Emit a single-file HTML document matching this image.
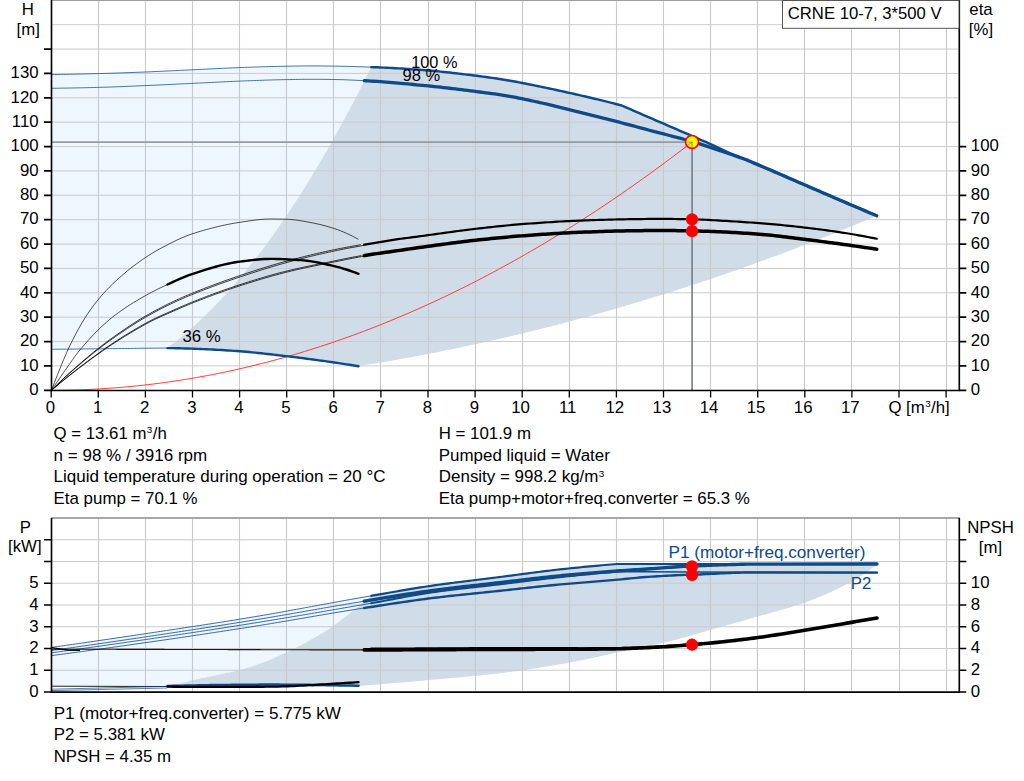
<!DOCTYPE html>
<html lang="en"><head><meta charset="utf-8"><title>CRNE 10-7 pump curve</title>
<style>html,body{margin:0;padding:0;background:#fff}body{width:1024px;height:781px;overflow:hidden;font-family:"Liberation Sans",sans-serif}svg{display:block}</style></head>
<body>
<svg width="1024" height="781" viewBox="0 0 1024 781">
<rect width="1024" height="781" fill="#fff"/>
<path d="M51.50 74.60 L54.52 74.55 L57.53 74.50 L60.55 74.45 L63.57 74.39 L66.59 74.33 L69.60 74.27 L72.62 74.21 L75.64 74.14 L78.65 74.08 L81.67 74.01 L84.69 73.94 L87.71 73.86 L90.72 73.79 L93.74 73.71 L96.76 73.63 L99.78 73.55 L102.79 73.47 L105.81 73.38 L108.83 73.29 L111.84 73.20 L114.86 73.10 L117.88 73.00 L120.90 72.90 L123.91 72.79 L126.93 72.68 L129.95 72.58 L132.96 72.46 L135.98 72.35 L139.00 72.23 L142.02 72.12 L145.03 72.00 L148.05 71.88 L151.07 71.75 L154.08 71.62 L157.10 71.48 L160.12 71.34 L163.14 71.20 L166.15 71.05 L169.17 70.90 L172.19 70.76 L175.21 70.61 L178.22 70.46 L181.24 70.31 L184.26 70.17 L187.27 70.02 L190.29 69.88 L193.31 69.74 L196.33 69.60 L199.34 69.46 L202.36 69.31 L205.38 69.16 L208.39 69.02 L211.41 68.87 L214.43 68.72 L217.45 68.58 L220.46 68.43 L223.48 68.29 L226.50 68.15 L229.51 68.01 L232.53 67.88 L235.55 67.75 L238.57 67.62 L241.58 67.50 L244.60 67.39 L247.62 67.28 L250.63 67.18 L253.65 67.08 L256.67 66.98 L259.69 66.89 L262.70 66.79 L265.72 66.70 L268.74 66.62 L271.76 66.53 L274.77 66.45 L277.79 66.38 L280.81 66.32 L283.82 66.26 L286.84 66.20 L289.86 66.15 L292.88 66.10 L295.89 66.05 L298.91 66.01 L301.93 65.97 L304.94 65.94 L307.96 65.91 L310.98 65.90 L314.00 65.90 L317.01 65.91 L320.03 65.94 L323.05 65.96 L326.06 66.00 L329.08 66.04 L332.10 66.08 L335.12 66.12 L338.13 66.16 L341.15 66.22 L344.17 66.28 L347.19 66.35 L350.20 66.43 L353.22 66.51 L356.24 66.60 L359.25 66.69 L362.27 66.79 L365.29 66.89 L368.31 67.00 L371.25 67.10 L371.25 67.10 L367.80 74.04 L364.34 80.90 L360.89 87.69 L357.44 94.40 L353.98 101.03 L350.53 107.59 L347.08 114.08 L343.62 120.49 L340.17 126.82 L336.72 133.08 L333.26 139.27 L329.81 145.38 L326.36 151.41 L322.90 157.37 L319.45 163.25 L316.00 169.06 L312.54 174.80 L309.09 180.45 L305.64 186.04 L302.18 191.54 L298.73 196.98 L295.28 202.33 L291.82 207.61 L288.37 212.82 L284.92 217.95 L281.46 223.01 L278.01 227.99 L274.56 232.89 L271.10 237.72 L267.65 242.48 L264.19 247.16 L260.74 251.76 L257.29 256.29 L253.83 260.74 L250.38 265.12 L246.93 269.42 L243.47 273.65 L240.02 277.80 L236.57 281.88 L233.11 285.88 L229.66 289.81 L226.21 293.66 L222.75 297.44 L219.30 301.14 L215.85 304.76 L212.39 308.32 L208.94 311.79 L205.49 315.19 L202.03 318.52 L198.58 321.76 L195.13 324.94 L191.67 328.04 L188.22 331.06 L184.77 334.01 L181.31 336.88 L177.86 339.68 L174.41 342.40 L170.95 345.05 L167.50 347.62 L167.50 348.10 L167.00 348.10 L163.97 348.10 L160.93 348.11 L157.89 348.13 L154.85 348.15 L151.81 348.18 L148.77 348.21 L145.73 348.24 L142.69 348.28 L139.65 348.31 L136.61 348.35 L133.57 348.40 L130.53 348.44 L127.49 348.48 L124.45 348.52 L121.41 348.56 L118.37 348.60 L115.33 348.64 L112.29 348.68 L109.25 348.71 L106.21 348.74 L103.17 348.77 L100.13 348.80 L97.09 348.83 L94.05 348.86 L91.01 348.90 L87.98 348.93 L84.94 348.96 L81.90 348.99 L78.86 349.02 L75.82 349.05 L72.78 349.08 L69.74 349.11 L66.70 349.15 L63.66 349.18 L60.62 349.21 L57.58 349.24 L54.54 349.27 L51.50 349.30 Z" fill="#eef6fe"/>
<path d="M167.50 347.62 L170.95 345.05 L174.41 342.40 L177.86 339.68 L181.31 336.88 L184.77 334.01 L188.22 331.06 L191.67 328.04 L195.13 324.94 L198.58 321.76 L202.03 318.52 L205.49 315.19 L208.94 311.79 L212.39 308.32 L215.85 304.76 L219.30 301.14 L222.75 297.44 L226.21 293.66 L229.66 289.81 L233.11 285.88 L236.57 281.88 L240.02 277.80 L243.47 273.65 L246.93 269.42 L250.38 265.12 L253.83 260.74 L257.29 256.29 L260.74 251.76 L264.19 247.16 L267.65 242.48 L271.10 237.72 L274.56 232.89 L278.01 227.99 L281.46 223.01 L284.92 217.95 L288.37 212.82 L291.82 207.61 L295.28 202.33 L298.73 196.98 L302.18 191.54 L305.64 186.04 L309.09 180.45 L312.54 174.80 L316.00 169.06 L319.45 163.25 L322.90 157.37 L326.36 151.41 L329.81 145.38 L333.26 139.27 L336.72 133.08 L340.17 126.82 L343.62 120.49 L347.08 114.08 L350.53 107.59 L353.98 101.03 L357.44 94.40 L360.89 87.69 L364.34 80.90 L367.80 74.04 L371.25 67.10 L371.25 67.10 L371.32 67.10 L374.34 67.22 L377.36 67.34 L380.37 67.47 L383.39 67.60 L386.41 67.75 L389.43 67.90 L392.44 68.06 L395.46 68.23 L398.48 68.40 L401.49 68.59 L404.51 68.77 L407.53 68.97 L410.55 69.17 L413.56 69.37 L416.58 69.58 L419.60 69.80 L422.62 70.02 L425.63 70.25 L428.65 70.49 L431.67 70.74 L434.68 71.02 L437.70 71.30 L440.72 71.60 L443.74 71.91 L446.75 72.24 L449.77 72.57 L452.79 72.91 L455.80 73.26 L458.82 73.62 L461.84 73.98 L464.86 74.35 L467.87 74.72 L470.89 75.09 L473.91 75.46 L476.92 75.84 L479.94 76.22 L482.96 76.62 L485.98 77.02 L488.99 77.44 L492.01 77.86 L495.03 78.30 L498.04 78.75 L501.06 79.21 L504.08 79.69 L507.10 80.18 L510.11 80.70 L513.13 81.24 L516.15 81.80 L519.17 82.38 L522.18 82.97 L525.20 83.57 L528.22 84.18 L531.23 84.80 L534.25 85.42 L537.27 86.04 L540.29 86.66 L543.30 87.28 L546.32 87.90 L549.34 88.53 L552.35 89.16 L555.37 89.81 L558.39 90.45 L561.41 91.11 L564.42 91.77 L567.44 92.43 L570.46 93.10 L573.47 93.78 L576.49 94.46 L579.51 95.15 L582.53 95.85 L585.54 96.55 L588.56 97.26 L591.58 97.97 L594.60 98.69 L597.61 99.42 L600.63 100.15 L603.65 100.89 L606.66 101.64 L609.68 102.40 L612.70 103.16 L615.72 103.94 L618.73 104.72 L621.75 105.50 L624.79 106.83 L627.82 108.15 L630.86 109.48 L633.89 110.80 L636.93 112.12 L639.96 113.44 L643.00 114.76 L646.04 116.08 L649.07 117.40 L652.11 118.71 L655.14 120.03 L658.18 121.34 L661.21 122.65 L664.25 123.96 L667.29 125.27 L670.32 126.58 L673.36 127.89 L676.39 129.20 L679.43 130.52 L682.46 131.83 L685.50 133.15 L688.54 134.47 L691.57 135.79 L694.61 137.12 L697.64 138.45 L700.68 139.77 L703.71 141.10 L706.75 142.45 L709.79 143.80 L712.82 145.17 L715.86 146.59 L718.89 148.03 L721.93 149.48 L724.96 150.91 L728.00 152.31 L731.04 153.65 L734.07 154.95 L737.11 156.22 L740.14 157.46 L743.18 158.68 L746.21 159.90 L749.25 161.13 L752.29 162.36 L755.32 163.62 L758.36 164.89 L761.39 166.18 L764.43 167.47 L767.46 168.76 L770.50 170.06 L773.54 171.37 L776.57 172.68 L779.61 173.99 L782.64 175.31 L785.68 176.63 L788.71 177.94 L791.75 179.26 L794.79 180.58 L797.82 181.90 L800.86 183.21 L803.89 184.52 L806.93 185.83 L809.96 187.14 L813.00 188.46 L816.04 189.77 L819.07 191.09 L822.11 192.40 L825.14 193.72 L828.18 195.03 L831.21 196.34 L834.25 197.65 L837.29 198.96 L840.32 200.27 L843.36 201.57 L846.39 202.87 L849.43 204.16 L852.46 205.46 L855.50 206.75 L858.54 208.04 L861.57 209.33 L864.61 210.62 L867.64 211.90 L870.68 213.19 L873.71 214.47 L876.75 215.75 L876.75 215.75 L870.19 218.51 L863.63 221.25 L857.07 223.97 L850.51 226.67 L843.95 229.34 L837.39 232.00 L830.83 234.63 L824.27 237.24 L817.71 239.82 L811.15 242.39 L804.59 244.93 L798.03 247.45 L791.47 249.95 L784.91 252.43 L778.35 254.88 L771.79 257.31 L765.23 259.72 L758.67 262.11 L752.11 264.48 L745.55 266.82 L738.99 269.14 L732.43 271.45 L725.87 273.72 L719.31 275.98 L712.75 278.21 L706.19 280.43 L699.63 282.62 L693.07 284.78 L686.51 286.93 L679.95 289.05 L673.39 291.15 L666.83 293.23 L660.27 295.29 L653.71 297.33 L647.15 299.34 L640.59 301.33 L634.03 303.30 L627.47 305.25 L620.91 307.17 L614.34 309.08 L607.78 310.96 L601.22 312.82 L594.66 314.66 L588.10 316.47 L581.54 318.26 L574.98 320.04 L568.42 321.78 L561.86 323.51 L555.30 325.22 L548.74 326.90 L542.18 328.56 L535.62 330.20 L529.06 331.82 L522.50 333.41 L515.94 334.98 L509.38 336.53 L502.82 338.06 L496.26 339.57 L489.70 341.05 L483.14 342.52 L476.58 343.96 L470.02 345.37 L463.46 346.77 L456.90 348.15 L450.34 349.50 L443.78 350.83 L437.22 352.14 L430.66 353.42 L424.10 354.69 L417.54 355.93 L410.98 357.15 L404.42 358.35 L397.86 359.52 L391.30 360.68 L384.74 361.81 L378.18 362.92 L371.62 364.01 L365.06 365.07 L358.50 366.11 L358.50 366.30 L355.46 365.80 L352.42 365.30 L349.38 364.81 L346.34 364.33 L343.30 363.85 L340.26 363.38 L337.22 362.93 L334.18 362.48 L331.14 362.04 L328.10 361.61 L325.06 361.18 L322.02 360.75 L318.99 360.33 L315.95 359.92 L312.91 359.51 L309.87 359.10 L306.83 358.70 L303.79 358.31 L300.75 357.92 L297.71 357.54 L294.67 357.16 L291.63 356.79 L288.59 356.43 L285.55 356.07 L282.51 355.71 L279.47 355.35 L276.43 355.00 L273.39 354.64 L270.35 354.29 L267.31 353.95 L264.27 353.61 L261.23 353.28 L258.19 352.96 L255.15 352.65 L252.11 352.35 L249.07 352.06 L246.03 351.79 L243.00 351.53 L239.96 351.30 L236.92 351.07 L233.88 350.85 L230.84 350.64 L227.80 350.43 L224.76 350.23 L221.72 350.05 L218.68 349.87 L215.64 349.70 L212.60 349.54 L209.56 349.40 L206.52 349.26 L203.48 349.14 L200.44 349.02 L197.40 348.89 L194.36 348.77 L191.32 348.65 L188.28 348.54 L185.24 348.43 L182.20 348.34 L179.16 348.25 L176.12 348.19 L173.08 348.14 L170.04 348.11 L167.50 348.10 Z" fill="#d0dce8"/>
<path d="M51.50 647.40 L54.52 646.97 L57.55 646.54 L60.57 646.11 L63.60 645.68 L66.62 645.25 L69.64 644.81 L72.67 644.38 L75.69 643.94 L78.72 643.51 L81.74 643.07 L84.76 642.63 L87.79 642.19 L90.81 641.75 L93.84 641.32 L96.86 640.87 L99.89 640.43 L102.91 639.99 L105.93 639.55 L108.96 639.10 L111.98 638.66 L115.01 638.21 L118.03 637.77 L121.05 637.32 L124.08 636.87 L127.10 636.42 L130.13 635.97 L133.15 635.52 L136.17 635.07 L139.20 634.62 L142.22 634.17 L145.25 633.71 L148.27 633.26 L151.29 632.81 L154.32 632.35 L157.34 631.90 L160.37 631.44 L163.39 630.99 L166.41 630.53 L169.44 630.08 L172.46 629.62 L175.49 629.17 L178.51 628.71 L181.53 628.25 L184.56 627.79 L187.58 627.34 L190.61 626.88 L193.63 626.42 L196.66 625.95 L199.68 625.49 L202.70 625.03 L205.73 624.56 L208.75 624.09 L211.78 623.62 L214.80 623.15 L217.82 622.68 L220.85 622.20 L223.87 621.73 L226.90 621.25 L229.92 620.76 L232.94 620.28 L235.97 619.79 L238.99 619.30 L242.02 618.81 L245.04 618.32 L248.06 617.82 L251.09 617.32 L254.11 616.81 L257.14 616.30 L260.16 615.79 L263.18 615.27 L266.21 614.75 L269.23 614.22 L272.26 613.69 L275.28 613.15 L278.30 612.62 L281.33 612.08 L284.35 611.53 L287.38 610.99 L290.40 610.44 L293.43 609.89 L296.45 609.34 L299.47 608.79 L302.50 608.23 L305.52 607.68 L308.55 607.12 L311.57 606.57 L314.59 606.01 L317.62 605.45 L320.64 604.89 L323.67 604.34 L326.69 603.78 L329.71 603.23 L332.74 602.67 L335.76 602.12 L338.79 601.57 L341.81 601.02 L344.83 600.47 L347.86 599.92 L350.88 599.38 L353.91 598.84 L356.93 598.30 L359.95 597.77 L362.98 597.23 L366.00 596.71 L369.03 596.18 L371.25 595.80 L371.25 595.80 L368.16 598.40 L365.08 600.98 L361.99 603.53 L358.90 606.05 L355.81 608.54 L352.73 611.01 L349.64 613.45 L346.55 615.90 L343.47 618.34 L340.38 620.72 L337.29 623.04 L334.20 625.26 L331.12 627.38 L328.03 629.43 L324.94 631.42 L321.86 633.36 L318.77 635.24 L315.68 637.07 L312.59 638.84 L309.51 640.57 L306.42 642.25 L303.33 643.87 L300.25 645.44 L297.16 646.98 L294.07 648.49 L290.98 649.98 L287.90 651.45 L284.81 652.91 L281.72 654.38 L278.64 655.85 L275.55 657.30 L272.46 658.70 L269.38 660.05 L266.29 661.32 L263.20 662.50 L260.11 663.62 L257.03 664.69 L253.94 665.72 L250.85 666.71 L247.77 667.66 L244.68 668.56 L241.59 669.42 L238.50 670.24 L235.42 671.01 L232.33 671.74 L229.24 672.44 L226.16 673.12 L223.07 673.78 L219.98 674.43 L216.89 675.09 L213.81 675.76 L210.72 676.40 L207.63 677.02 L204.55 677.63 L201.46 678.25 L198.37 678.90 L195.28 679.57 L192.20 680.30 L189.11 681.11 L186.02 681.98 L182.94 682.85 L179.85 683.64 L176.76 684.36 L173.67 685.04 L170.59 685.69 L167.50 686.30 L167.50 686.30 L51.50 686.00 Z" fill="#eef6fe"/>
<path d="M167.50 686.30 L170.59 685.69 L173.67 685.04 L176.76 684.36 L179.85 683.64 L182.94 682.85 L186.02 681.98 L189.11 681.11 L192.20 680.30 L195.28 679.57 L198.37 678.90 L201.46 678.25 L204.55 677.63 L207.63 677.02 L210.72 676.40 L213.81 675.76 L216.89 675.09 L219.98 674.43 L223.07 673.78 L226.16 673.12 L229.24 672.44 L232.33 671.74 L235.42 671.01 L238.50 670.24 L241.59 669.42 L244.68 668.56 L247.77 667.66 L250.85 666.71 L253.94 665.72 L257.03 664.69 L260.11 663.62 L263.20 662.50 L266.29 661.32 L269.38 660.05 L272.46 658.70 L275.55 657.30 L278.64 655.85 L281.72 654.38 L284.81 652.91 L287.90 651.45 L290.98 649.98 L294.07 648.49 L297.16 646.98 L300.25 645.44 L303.33 643.87 L306.42 642.25 L309.51 640.57 L312.59 638.84 L315.68 637.07 L318.77 635.24 L321.86 633.36 L324.94 631.42 L328.03 629.43 L331.12 627.38 L334.20 625.26 L337.29 623.04 L340.38 620.72 L343.47 618.34 L346.55 615.90 L349.64 613.45 L352.73 611.01 L355.81 608.54 L358.90 606.05 L361.99 603.53 L365.08 600.98 L368.16 598.40 L371.25 595.80 L371.25 595.80 L372.05 595.66 L375.07 595.14 L378.10 594.62 L381.12 594.09 L384.15 593.57 L387.17 593.04 L390.20 592.52 L393.22 591.99 L396.24 591.47 L399.27 590.95 L402.29 590.43 L405.32 589.92 L408.34 589.42 L411.36 588.91 L414.39 588.42 L417.41 587.93 L420.44 587.45 L423.46 586.98 L426.48 586.52 L429.51 586.06 L432.53 585.62 L435.56 585.19 L438.58 584.77 L441.60 584.35 L444.63 583.94 L447.65 583.54 L450.68 583.14 L453.70 582.75 L456.72 582.36 L459.75 581.98 L462.77 581.60 L465.80 581.22 L468.82 580.85 L471.84 580.48 L474.87 580.11 L477.89 579.74 L480.92 579.37 L483.94 579.00 L486.97 578.63 L489.99 578.25 L493.01 577.88 L496.04 577.50 L499.06 577.12 L502.09 576.73 L505.11 576.34 L508.13 575.95 L511.16 575.55 L514.18 575.15 L517.21 574.75 L520.23 574.35 L523.25 573.95 L526.28 573.55 L529.30 573.15 L532.33 572.75 L535.35 572.36 L538.37 571.97 L541.40 571.59 L544.42 571.21 L547.45 570.84 L550.47 570.48 L553.49 570.13 L556.52 569.78 L559.54 569.45 L562.57 569.12 L565.59 568.80 L568.61 568.48 L571.64 568.17 L574.66 567.86 L577.69 567.55 L580.71 567.25 L583.74 566.95 L586.76 566.66 L589.78 566.37 L592.81 566.09 L595.83 565.81 L598.86 565.53 L601.88 565.27 L604.90 565.00 L607.93 564.74 L610.95 564.49 L613.98 564.24 L617.00 564.00 L640.00 564.00 L692.50 564.00 L756.00 564.00 L877.00 563.90 L877.00 564.50 L873.97 566.76 L870.94 568.98 L867.91 571.15 L864.88 573.26 L861.85 575.31 L858.82 577.28 L855.79 579.17 L852.75 580.96 L849.72 582.65 L846.69 584.27 L843.66 585.84 L840.63 587.38 L837.60 588.87 L834.57 590.32 L831.54 591.73 L828.51 593.10 L825.48 594.43 L822.45 595.73 L819.42 596.99 L816.39 598.21 L813.36 599.40 L810.32 600.55 L807.29 601.67 L804.26 602.76 L801.23 603.81 L798.20 604.82 L795.17 605.80 L792.14 606.74 L789.11 607.66 L786.08 608.56 L783.05 609.44 L780.02 610.30 L776.99 611.15 L773.96 611.99 L770.93 612.82 L767.89 613.66 L764.86 614.50 L761.83 615.34 L758.80 616.20 L755.77 617.07 L752.74 617.94 L749.71 618.81 L746.68 619.68 L743.65 620.54 L740.62 621.40 L737.59 622.26 L734.56 623.11 L731.53 623.97 L728.50 624.82 L725.46 625.67 L722.43 626.52 L719.40 627.37 L716.37 628.22 L713.34 629.06 L710.31 629.91 L707.28 630.77 L704.25 631.63 L701.22 632.51 L698.19 633.38 L695.16 634.26 L692.13 635.14 L689.10 636.02 L686.07 636.89 L683.04 637.75 L680.00 638.59 L676.97 639.42 L673.94 640.24 L670.91 641.03 L667.88 641.80 L664.85 642.54 L661.82 643.25 L658.79 643.94 L655.76 644.62 L652.73 645.28 L649.70 645.93 L646.67 646.56 L643.64 647.19 L640.61 647.80 L637.57 648.42 L634.54 649.03 L631.51 649.64 L628.48 650.25 L625.45 650.86 L622.42 651.48 L619.39 652.10 L616.36 652.74 L613.33 653.39 L610.30 654.04 L607.27 654.71 L604.24 655.37 L601.21 656.04 L598.18 656.71 L595.14 657.37 L592.11 658.03 L589.08 658.69 L586.05 659.33 L583.02 659.96 L579.99 660.58 L576.96 661.19 L573.93 661.77 L570.90 662.34 L567.87 662.88 L564.84 663.43 L561.81 663.96 L558.78 664.50 L555.75 665.02 L552.71 665.55 L549.68 666.06 L546.65 666.57 L543.62 667.07 L540.59 667.56 L537.56 668.05 L534.53 668.52 L531.50 668.99 L528.47 669.45 L525.44 669.89 L522.41 670.33 L519.38 670.76 L516.35 671.17 L513.32 671.58 L510.29 671.97 L507.25 672.35 L504.22 672.71 L501.19 673.07 L498.16 673.42 L495.13 673.76 L492.10 674.10 L489.07 674.43 L486.04 674.75 L483.01 675.07 L479.98 675.38 L476.95 675.68 L473.92 675.98 L470.89 676.27 L467.86 676.56 L464.82 676.85 L461.79 677.13 L458.76 677.41 L455.73 677.69 L452.70 677.96 L449.67 678.23 L446.64 678.50 L443.61 678.77 L440.58 679.04 L437.55 679.30 L434.52 679.57 L431.49 679.83 L428.46 680.10 L425.43 680.37 L422.39 680.63 L419.36 680.90 L416.33 681.17 L413.30 681.44 L410.27 681.71 L407.24 681.97 L404.21 682.24 L401.18 682.50 L398.15 682.76 L395.12 683.02 L392.09 683.28 L389.06 683.53 L386.03 683.79 L383.00 684.04 L379.96 684.29 L376.93 684.54 L373.90 684.79 L370.87 685.03 L367.84 685.28 L364.81 685.52 L361.78 685.76 L358.75 686.00 L358.50 686.60 L167.50 686.60 Z" fill="#d0dce8"/>
<g fill="none"><path d="M98.5 1V390M98.5 519.0V691" stroke="#c8c9cb" stroke-width="1.1"/><path d="M145.5 1V390M145.5 519.0V691" stroke="#c8c9cb" stroke-width="1.1"/><path d="M192.5 1V390M192.5 519.0V691" stroke="#c8c9cb" stroke-width="1.1"/><path d="M239.5 1V390M239.5 519.0V691" stroke="#c8c9cb" stroke-width="1.1"/><path d="M286.5 1V390M286.5 519.0V691" stroke="#c8c9cb" stroke-width="1.1"/><path d="M333.5 1V390M333.5 519.0V691" stroke="#c8c9cb" stroke-width="1.1"/><path d="M380.5 1V390M380.5 519.0V691" stroke="#c8c9cb" stroke-width="1.1"/><path d="M428.5 1V390M428.5 519.0V691" stroke="#c8c9cb" stroke-width="1.1"/><path d="M475.5 1V390M475.5 519.0V691" stroke="#c8c9cb" stroke-width="1.1"/><path d="M522.5 1V390M522.5 519.0V691" stroke="#c8c9cb" stroke-width="1.1"/><path d="M569.5 1V390M569.5 519.0V691" stroke="#c8c9cb" stroke-width="1.1"/><path d="M616.5 1V390M616.5 519.0V691" stroke="#c8c9cb" stroke-width="1.1"/><path d="M663.5 1V390M663.5 519.0V691" stroke="#c8c9cb" stroke-width="1.1"/><path d="M710.5 1V390M710.5 519.0V691" stroke="#c8c9cb" stroke-width="1.1"/><path d="M757.5 1V390M757.5 519.0V691" stroke="#c8c9cb" stroke-width="1.1"/><path d="M804.5 1V390M804.5 519.0V691" stroke="#c8c9cb" stroke-width="1.1"/><path d="M851.5 1V390M851.5 519.0V691" stroke="#c8c9cb" stroke-width="1.1"/><path d="M899.5 1V390M899.5 519.0V691" stroke="#c8c9cb" stroke-width="1.1"/><path d="M946.5 1V390M946.5 519.0V691" stroke="#c8c9cb" stroke-width="1.1"/><path d="M52 365.93H958" stroke="#cacbcd" stroke-width="1"/><path d="M52 341.55H958" stroke="#cacbcd" stroke-width="1"/><path d="M52 317.18H958" stroke="#cacbcd" stroke-width="1"/><path d="M52 292.80H958" stroke="#cacbcd" stroke-width="1"/><path d="M52 268.43H958" stroke="#cacbcd" stroke-width="1"/><path d="M52 244.05H958" stroke="#cacbcd" stroke-width="1"/><path d="M52 219.68H958" stroke="#cacbcd" stroke-width="1"/><path d="M52 195.30H958" stroke="#cacbcd" stroke-width="1"/><path d="M52 170.93H958" stroke="#cacbcd" stroke-width="1"/><path d="M52 146.55H958" stroke="#cacbcd" stroke-width="1"/><path d="M52 122.18H958" stroke="#cacbcd" stroke-width="1"/><path d="M52 97.80H958" stroke="#cacbcd" stroke-width="1"/><path d="M52 73.43H958" stroke="#cacbcd" stroke-width="1"/><path d="M52 49.05H958" stroke="#cacbcd" stroke-width="1"/><path d="M52 24.68H958" stroke="#cacbcd" stroke-width="1"/><path d="M52 670.25H958" stroke="#cacbcd" stroke-width="1"/><path d="M52 648.50H958" stroke="#cacbcd" stroke-width="1"/><path d="M52 626.75H958" stroke="#cacbcd" stroke-width="1"/><path d="M52 605.00H958" stroke="#cacbcd" stroke-width="1"/><path d="M52 583.25H958" stroke="#cacbcd" stroke-width="1"/><path d="M52 561.50H958" stroke="#cacbcd" stroke-width="1"/><path d="M52 539.75H958" stroke="#cacbcd" stroke-width="1"/></g>
<path d="M51 0.35H960" stroke="#8e8e8e" stroke-width="1.0" fill="none"/>
<path d="M51 518.0H960" stroke="#8a8a8a" stroke-width="1.6" fill="none"/>
<path d="M52 142.22H692.23" stroke="#959ba2" stroke-width="1.7" fill="none"/>
<path d="M692.08 141.92V390" stroke="#6e747b" stroke-width="1.5" fill="none"/>
<path d="M51.20 390.30 L56.59 390.28 L61.97 390.23 L67.36 390.14 L72.75 390.02 L78.13 389.86 L83.52 389.67 L88.91 389.44 L94.29 389.18 L99.68 388.88 L105.07 388.55 L110.45 388.18 L115.84 387.77 L121.23 387.34 L126.62 386.86 L132.00 386.35 L137.39 385.81 L142.78 385.23 L148.16 384.62 L153.55 383.97 L158.94 383.28 L164.32 382.56 L169.71 381.81 L175.10 381.02 L180.48 380.20 L185.87 379.34 L191.26 378.44 L196.64 377.51 L202.03 376.55 L207.42 375.55 L212.80 374.51 L218.19 373.44 L223.58 372.34 L228.96 371.20 L234.35 370.02 L239.74 368.81 L245.13 367.57 L250.51 366.29 L255.90 364.97 L261.29 363.62 L266.67 362.24 L272.06 360.82 L277.45 359.36 L282.83 357.87 L288.22 356.34 L293.61 354.78 L298.99 353.19 L304.38 351.55 L309.77 349.89 L315.15 348.19 L320.54 346.45 L325.93 344.68 L331.31 342.87 L336.70 341.03 L342.09 339.15 L347.47 337.24 L352.86 335.30 L358.25 333.31 L363.64 331.30 L369.02 329.24 L374.41 327.16 L379.80 325.03 L385.18 322.88 L390.57 320.68 L395.96 318.46 L401.34 316.19 L406.73 313.90 L412.12 311.56 L417.50 309.20 L422.89 306.79 L428.28 304.35 L433.66 301.88 L439.05 299.37 L444.44 296.83 L449.82 294.25 L455.21 291.64 L460.60 288.99 L465.98 286.31 L471.37 283.59 L476.76 280.83 L482.15 278.05 L487.53 275.22 L492.92 272.36 L498.31 269.47 L503.69 266.54 L509.08 263.57 L514.47 260.58 L519.85 257.54 L525.24 254.47 L530.63 251.37 L536.01 248.23 L541.40 245.05 L546.79 241.84 L552.17 238.60 L557.56 235.32 L562.95 232.00 L568.33 228.65 L573.72 225.27 L579.11 221.85 L584.49 218.39 L589.88 214.90 L595.27 211.38 L600.66 207.82 L606.04 204.22 L611.43 200.59 L616.82 196.92 L622.20 193.22 L627.59 189.49 L632.98 185.72 L638.36 181.91 L643.75 178.07 L649.14 174.19 L654.52 170.28 L659.91 166.33 L665.30 162.35 L670.68 158.34 L676.07 154.28 L681.46 150.20 L686.84 146.08 L692.23 141.92" fill="none" stroke="#ff2a2a" stroke-width="0.9" />
<path d="M51.50 74.60 L54.52 74.55 L57.53 74.50 L60.55 74.45 L63.57 74.39 L66.59 74.33 L69.60 74.27 L72.62 74.21 L75.64 74.14 L78.65 74.08 L81.67 74.01 L84.69 73.94 L87.71 73.86 L90.72 73.79 L93.74 73.71 L96.76 73.63 L99.78 73.55 L102.79 73.47 L105.81 73.38 L108.83 73.29 L111.84 73.20 L114.86 73.10 L117.88 73.00 L120.90 72.90 L123.91 72.79 L126.93 72.68 L129.95 72.58 L132.96 72.46 L135.98 72.35 L139.00 72.23 L142.02 72.12 L145.03 72.00 L148.05 71.88 L151.07 71.75 L154.08 71.62 L157.10 71.48 L160.12 71.34 L163.14 71.20 L166.15 71.05 L169.17 70.90 L172.19 70.76 L175.21 70.61 L178.22 70.46 L181.24 70.31 L184.26 70.17 L187.27 70.02 L190.29 69.88 L193.31 69.74 L196.33 69.60 L199.34 69.46 L202.36 69.31 L205.38 69.16 L208.39 69.02 L211.41 68.87 L214.43 68.72 L217.45 68.58 L220.46 68.43 L223.48 68.29 L226.50 68.15 L229.51 68.01 L232.53 67.88 L235.55 67.75 L238.57 67.62 L241.58 67.50 L244.60 67.39 L247.62 67.28 L250.63 67.18 L253.65 67.08 L256.67 66.98 L259.69 66.89 L262.70 66.79 L265.72 66.70 L268.74 66.62 L271.76 66.53 L274.77 66.45 L277.79 66.38 L280.81 66.32 L283.82 66.26 L286.84 66.20 L289.86 66.15 L292.88 66.10 L295.89 66.05 L298.91 66.01 L301.93 65.97 L304.94 65.94 L307.96 65.91 L310.98 65.90 L314.00 65.90 L317.01 65.91 L320.03 65.94 L323.05 65.96 L326.06 66.00 L329.08 66.04 L332.10 66.08 L335.12 66.12 L338.13 66.16 L341.15 66.22 L344.17 66.28 L347.19 66.35 L350.20 66.43 L353.22 66.51 L356.24 66.60 L359.25 66.69 L362.27 66.79 L365.29 66.89 L368.31 67.00 L371.25 67.10" fill="none" stroke="#0f4a88" stroke-width="1.0" stroke-opacity="0.75"/>
<path d="M51.50 88.30 L54.52 88.27 L57.53 88.23 L60.55 88.19 L63.56 88.14 L66.58 88.09 L69.59 88.04 L72.61 87.98 L75.62 87.92 L78.64 87.86 L81.65 87.80 L84.67 87.73 L87.68 87.66 L90.70 87.58 L93.71 87.51 L96.73 87.43 L99.74 87.35 L102.76 87.27 L105.77 87.17 L108.79 87.07 L111.80 86.97 L114.82 86.86 L117.83 86.74 L120.85 86.62 L123.86 86.50 L126.88 86.37 L129.89 86.25 L132.91 86.12 L135.92 85.99 L138.94 85.86 L141.95 85.73 L144.97 85.60 L147.98 85.47 L151.00 85.34 L154.02 85.21 L157.03 85.07 L160.05 84.93 L163.06 84.79 L166.08 84.64 L169.09 84.50 L172.11 84.35 L175.12 84.21 L178.14 84.06 L181.15 83.92 L184.17 83.77 L187.18 83.63 L190.20 83.48 L193.21 83.34 L196.23 83.20 L199.24 83.05 L202.26 82.91 L205.27 82.76 L208.29 82.60 L211.30 82.45 L214.32 82.30 L217.33 82.15 L220.35 82.00 L223.36 81.85 L226.38 81.71 L229.39 81.57 L232.41 81.43 L235.42 81.29 L238.44 81.16 L241.45 81.03 L244.47 80.91 L247.48 80.79 L250.50 80.68 L253.52 80.57 L256.53 80.47 L259.55 80.36 L262.56 80.26 L265.58 80.16 L268.59 80.06 L271.61 79.97 L274.62 79.88 L277.64 79.80 L280.65 79.73 L283.67 79.66 L286.68 79.61 L289.70 79.55 L292.71 79.50 L295.73 79.45 L298.74 79.41 L301.76 79.37 L304.77 79.34 L307.79 79.31 L310.80 79.30 L313.82 79.30 L316.83 79.31 L319.85 79.33 L322.86 79.36 L325.88 79.39 L328.89 79.43 L331.91 79.47 L334.92 79.51 L337.94 79.58 L340.95 79.66 L343.97 79.76 L346.98 79.87 L350.00 80.00 L353.02 80.14 L356.03 80.28 L359.05 80.43 L362.06 80.59 L364.25 80.70" fill="none" stroke="#0f4a88" stroke-width="1.0" stroke-opacity="0.75"/>
<path d="M51.50 349.30 L54.54 349.27 L57.58 349.24 L60.62 349.21 L63.66 349.18 L66.70 349.15 L69.74 349.11 L72.78 349.08 L75.82 349.05 L78.86 349.02 L81.90 348.99 L84.94 348.96 L87.98 348.93 L91.01 348.90 L94.05 348.86 L97.09 348.83 L100.13 348.80 L103.17 348.77 L106.21 348.74 L109.25 348.71 L112.29 348.68 L115.33 348.64 L118.37 348.60 L121.41 348.56 L124.45 348.52 L127.49 348.48 L130.53 348.44 L133.57 348.40 L136.61 348.35 L139.65 348.31 L142.69 348.28 L145.73 348.24 L148.77 348.21 L151.81 348.18 L154.85 348.15 L157.89 348.13 L160.93 348.11 L163.97 348.10 L167.00 348.10 L167.50 348.10" fill="none" stroke="#0f4a88" stroke-width="1.0" stroke-opacity="0.75"/>
<path d="M51.50 390.30 L54.54 382.30 L57.58 374.54 L60.62 366.99 L63.66 359.55 L66.70 352.45 L69.74 345.96 L72.78 339.78 L75.82 333.86 L78.86 328.24 L81.90 322.94 L84.94 317.99 L87.98 313.37 L91.01 309.00 L94.05 304.87 L97.09 300.96 L100.13 297.28 L103.17 293.79 L106.21 290.48 L109.25 287.32 L112.29 284.30 L115.33 281.41 L118.37 278.62 L121.41 275.94 L124.45 273.34 L127.49 270.82 L130.53 268.39 L133.57 266.03 L136.61 263.74 L139.65 261.54 L142.69 259.41 L145.73 257.35 L148.77 255.36 L151.81 253.45 L154.85 251.63 L157.89 249.90 L160.93 248.26 L163.97 246.65 L167.00 245.05 L170.04 243.48 L173.08 241.95 L176.12 240.46 L179.16 239.04 L182.20 237.68 L185.24 236.40 L188.28 235.22 L191.32 234.14 L194.36 233.15 L197.40 232.20 L200.44 231.28 L203.48 230.39 L206.52 229.52 L209.56 228.69 L212.60 227.90 L215.64 227.13 L218.68 226.40 L221.72 225.70 L224.76 225.04 L227.80 224.42 L230.84 223.83 L233.88 223.28 L236.92 222.77 L239.96 222.31 L243.00 221.85 L246.03 221.39 L249.07 220.93 L252.11 220.49 L255.15 220.08 L258.19 219.72 L261.23 219.41 L264.27 219.18 L267.31 219.04 L270.35 219.00 L273.39 219.01 L276.43 219.05 L279.47 219.10 L282.51 219.17 L285.55 219.24 L288.59 219.34 L291.63 219.55 L294.67 219.86 L297.71 220.27 L300.75 220.75 L303.79 221.28 L306.83 221.83 L309.87 222.38 L312.91 222.95 L315.95 223.58 L318.99 224.27 L322.02 225.01 L325.06 225.82 L328.10 226.67 L331.14 227.58 L334.18 228.54 L337.22 229.56 L340.26 230.69 L343.30 231.92 L346.34 233.24 L349.38 234.65 L352.42 236.13 L355.46 237.69 L358.50 239.30" fill="none" stroke="#000" stroke-width="0.8" stroke-opacity="0.85"/>
<path d="M51.50 390.30 L54.54 385.73 L57.58 381.23 L60.62 376.78 L63.66 372.41 L66.70 368.08 L69.74 363.71 L72.78 359.39 L75.82 355.20 L78.86 351.24 L81.90 347.58 L84.94 344.08 L87.98 340.67 L91.01 337.35 L94.05 334.14 L97.09 331.04 L100.13 328.05 L103.17 325.18 L106.21 322.44 L109.25 319.82 L112.29 317.35 L115.33 314.99 L118.37 312.72 L121.41 310.55 L124.45 308.45 L127.49 306.42 L130.53 304.46 L133.57 302.56 L136.61 300.72 L139.65 298.92 L142.69 297.16 L145.73 295.43 L148.77 293.75 L151.81 292.13 L154.85 290.56 L157.89 289.05 L160.93 287.58 L163.97 286.14 L167.00 284.73 L167.50 284.50" fill="none" stroke="#000" stroke-width="0.8" stroke-opacity="0.85"/>
<path d="M51.50 390.30 L54.48 387.31 L57.45 384.36 L60.43 381.46 L63.41 378.60 L66.39 375.81 L69.37 373.08 L72.35 370.39 L75.33 367.73 L78.31 365.10 L81.28 362.50 L84.26 359.94 L87.24 357.42 L90.22 354.94 L93.20 352.50 L96.18 350.10 L99.16 347.75 L102.14 345.44 L105.11 343.18 L108.09 340.96 L111.07 338.79 L114.05 336.65 L117.03 334.54 L120.01 332.47 L122.99 330.42 L125.96 328.38 L128.94 326.38 L131.92 324.41 L134.90 322.47 L137.88 320.59 L140.86 318.76 L143.84 317.00 L146.82 315.27 L149.79 313.59 L152.77 311.94 L155.75 310.33 L158.73 308.76 L161.71 307.21 L164.69 305.70 L167.67 304.22 L170.65 302.77 L173.62 301.36 L176.60 299.97 L179.58 298.62 L182.56 297.30 L185.54 296.01 L188.52 294.76 L191.50 293.52 L194.48 292.31 L197.45 291.12 L200.43 289.94 L203.41 288.77 L206.39 287.62 L209.37 286.48 L212.35 285.36 L215.33 284.25 L218.31 283.16 L221.28 282.07 L224.26 281.00 L227.24 279.95 L230.22 278.90 L233.20 277.87 L236.18 276.84 L239.16 275.83 L242.14 274.83 L245.11 273.83 L248.09 272.84 L251.07 271.86 L254.05 270.89 L257.03 269.93 L260.01 268.98 L262.99 268.04 L265.97 267.12 L268.94 266.21 L271.92 265.31 L274.90 264.43 L277.88 263.57 L280.86 262.72 L283.84 261.89 L286.82 261.08 L289.80 260.28 L292.77 259.49 L295.75 258.71 L298.73 257.94 L301.71 257.19 L304.69 256.44 L307.67 255.71 L310.65 254.99 L313.63 254.28 L316.60 253.58 L319.58 252.90 L322.56 252.23 L325.54 251.57 L328.52 250.92 L331.50 250.28 L334.48 249.66 L337.45 249.05 L340.43 248.46 L343.41 247.89 L346.39 247.32 L349.37 246.77 L352.35 246.22 L355.33 245.69 L358.31 245.16 L360.81 244.71" fill="none" stroke="#000" stroke-width="0.85" stroke-opacity="0.9"/>
<path d="M51.50 390.30 L51.50 390.30 L54.55 387.31 L57.59 384.36 L60.64 381.46 L63.68 378.60 L66.73 375.81 L69.77 373.08 L72.82 370.39 L75.86 367.73 L78.91 365.10 L81.95 362.50 L85.00 359.94 L88.04 357.42 L91.09 354.94 L94.13 352.50 L97.18 350.10 L100.22 347.75 L103.27 345.44 L106.31 343.18 L109.36 340.96 L112.40 338.79 L115.45 336.65 L118.49 334.54 L121.54 332.47 L124.58 330.42 L127.63 328.38 L130.67 326.38 L133.72 324.41 L136.76 322.47 L139.81 320.59 L142.85 318.76 L145.90 317.00 L148.94 315.27 L151.99 313.59 L155.03 311.94 L158.08 310.33 L161.12 308.76 L164.17 307.21 L167.21 305.70 L170.26 304.22 L173.30 302.77 L176.35 301.36 L179.39 299.97 L182.44 298.62 L185.48 297.30 L188.53 296.01 L191.57 294.76 L194.62 293.52 L197.66 292.31 L200.71 291.12 L203.75 289.94 L206.80 288.77 L209.84 287.62 L212.89 286.48 L215.93 285.36 L218.98 284.25 L222.02 283.16 L225.07 282.07 L228.11 281.00 L231.16 279.95 L234.20 278.90 L237.25 277.87 L240.29 276.84 L243.34 275.83 L246.38 274.83 L249.43 273.83 L252.47 272.84 L255.52 271.86 L258.56 270.89 L261.61 269.93 L264.65 268.98 L267.70 268.04 L270.74 267.12 L273.79 266.21 L276.83 265.31 L279.88 264.43 L282.92 263.57 L285.97 262.72 L289.01 261.89 L292.06 261.08 L295.10 260.28 L298.15 259.49 L301.19 258.71 L304.24 257.94 L307.28 257.19 L310.33 256.44 L313.37 255.71 L316.42 254.99 L319.46 254.28 L322.51 253.58 L325.55 252.90 L328.60 252.23 L331.64 251.57 L334.69 250.92 L337.73 250.28 L340.78 249.66 L343.82 249.05 L346.87 248.46 L349.91 247.89 L352.96 247.32 L356.00 246.77 L359.05 246.22 L362.09 245.69 L364.25 245.31" fill="none" stroke="#000" stroke-width="0.85" stroke-opacity="0.9"/>
<path d="M51.50 390.30 L54.48 387.73 L57.47 385.19 L60.45 382.67 L63.44 380.19 L66.42 377.74 L69.41 375.34 L72.39 372.97 L75.38 370.62 L78.36 368.29 L81.34 365.98 L84.33 363.69 L87.31 361.43 L90.30 359.19 L93.28 356.98 L96.27 354.80 L99.25 352.64 L102.24 350.52 L105.22 348.43 L108.21 346.37 L111.19 344.35 L114.18 342.36 L117.16 340.40 L120.15 338.47 L123.13 336.58 L126.12 334.73 L129.10 332.91 L132.09 331.10 L135.07 329.32 L138.06 327.56 L141.04 325.84 L144.02 324.15 L147.01 322.52 L149.99 320.94 L152.98 319.43 L155.96 317.98 L158.95 316.60 L161.93 315.25 L164.92 313.93 L167.90 312.61 L170.89 311.29 L173.87 309.96 L176.86 308.63 L179.84 307.32 L182.83 306.02 L185.81 304.74 L188.80 303.49 L191.78 302.28 L194.77 301.09 L197.75 299.91 L200.74 298.74 L203.72 297.58 L206.70 296.43 L209.69 295.30 L212.67 294.18 L215.66 293.08 L218.64 291.99 L221.63 290.91 L224.61 289.85 L227.60 288.81 L230.58 287.78 L233.57 286.77 L236.55 285.77 L239.54 284.80 L242.52 283.83 L245.51 282.87 L248.49 281.93 L251.48 280.99 L254.46 280.07 L257.45 279.16 L260.43 278.26 L263.41 277.37 L266.40 276.50 L269.38 275.65 L272.37 274.82 L275.35 274.00 L278.34 273.20 L281.32 272.42 L284.31 271.67 L287.29 270.93 L290.28 270.21 L293.26 269.51 L296.25 268.83 L299.23 268.17 L302.22 267.52 L305.20 266.88 L308.19 266.25 L311.17 265.62 L314.16 265.01 L317.14 264.40 L320.13 263.80 L323.11 263.19 L326.09 262.59 L329.08 261.99 L332.06 261.38 L335.05 260.77 L338.03 260.15 L341.02 259.54 L344.00 258.93 L346.99 258.32 L349.97 257.73 L352.96 257.15 L355.94 256.59 L358.93 256.05 L361.43 255.62" fill="none" stroke="#000" stroke-width="0.85" stroke-opacity="0.9"/>
<path d="M51.50 390.30 L51.50 390.30 L54.54 387.73 L57.58 385.19 L60.62 382.67 L63.66 380.19 L66.70 377.74 L69.74 375.34 L72.78 372.97 L75.81 370.62 L78.85 368.29 L81.89 365.98 L84.93 363.69 L87.97 361.43 L91.01 359.19 L94.05 356.98 L97.09 354.80 L100.13 352.64 L103.17 350.52 L106.20 348.43 L109.24 346.37 L112.28 344.35 L115.32 342.36 L118.36 340.40 L121.40 338.47 L124.44 336.58 L127.48 334.73 L130.52 332.91 L133.55 331.10 L136.59 329.32 L139.63 327.56 L142.67 325.84 L145.71 324.15 L148.75 322.52 L151.79 320.94 L154.83 319.43 L157.87 317.98 L160.91 316.60 L163.94 315.25 L166.98 313.93 L170.02 312.61 L173.06 311.29 L176.10 309.96 L179.14 308.63 L182.18 307.32 L185.22 306.02 L188.26 304.74 L191.30 303.49 L194.33 302.28 L197.37 301.09 L200.41 299.91 L203.45 298.74 L206.49 297.58 L209.53 296.43 L212.57 295.30 L215.61 294.18 L218.65 293.08 L221.68 291.99 L224.72 290.91 L227.76 289.85 L230.80 288.81 L233.84 287.78 L236.88 286.77 L239.92 285.77 L242.96 284.80 L246.00 283.83 L249.04 282.87 L252.07 281.93 L255.11 280.99 L258.15 280.07 L261.19 279.16 L264.23 278.26 L267.27 277.37 L270.31 276.50 L273.35 275.65 L276.39 274.82 L279.43 274.00 L282.46 273.20 L285.50 272.42 L288.54 271.67 L291.58 270.93 L294.62 270.21 L297.66 269.51 L300.70 268.83 L303.74 268.17 L306.78 267.52 L309.81 266.88 L312.85 266.25 L315.89 265.62 L318.93 265.01 L321.97 264.40 L325.01 263.80 L328.05 263.19 L331.09 262.59 L334.13 261.99 L337.17 261.38 L340.20 260.77 L343.24 260.15 L346.28 259.54 L349.32 258.93 L352.36 258.32 L355.40 257.73 L358.44 257.15 L361.48 256.59 L364.25 256.10" fill="none" stroke="#000" stroke-width="0.85" stroke-opacity="0.9"/>
<path d="M167.50 348.10 L170.04 348.11 L173.08 348.14 L176.12 348.19 L179.16 348.25 L182.20 348.34 L185.24 348.43 L188.28 348.54 L191.32 348.65 L194.36 348.77 L197.40 348.89 L200.44 349.02 L203.48 349.14 L206.52 349.26 L209.56 349.40 L212.60 349.54 L215.64 349.70 L218.68 349.87 L221.72 350.05 L224.76 350.23 L227.80 350.43 L230.84 350.64 L233.88 350.85 L236.92 351.07 L239.96 351.30 L243.00 351.53 L246.03 351.79 L249.07 352.06 L252.11 352.35 L255.15 352.65 L258.19 352.96 L261.23 353.28 L264.27 353.61 L267.31 353.95 L270.35 354.29 L273.39 354.64 L276.43 355.00 L279.47 355.35 L282.51 355.71 L285.55 356.07 L288.59 356.43 L291.63 356.79 L294.67 357.16 L297.71 357.54 L300.75 357.92 L303.79 358.31 L306.83 358.70 L309.87 359.10 L312.91 359.51 L315.95 359.92 L318.99 360.33 L322.02 360.75 L325.06 361.18 L328.10 361.61 L331.14 362.04 L334.18 362.48 L337.22 362.93 L340.26 363.38 L343.30 363.85 L346.34 364.33 L349.38 364.81 L352.42 365.30 L355.46 365.80 L358.50 366.30" fill="none" stroke="#0f4a88" stroke-width="2.4" stroke-linecap="round" stroke-linejoin="round"/>
<path d="M371.25 67.10 L371.32 67.10 L374.34 67.22 L377.36 67.34 L380.37 67.47 L383.39 67.60 L386.41 67.75 L389.43 67.90 L392.44 68.06 L395.46 68.23 L398.48 68.40 L401.49 68.59 L404.51 68.77 L407.53 68.97 L410.55 69.17 L413.56 69.37 L416.58 69.58 L419.60 69.80 L422.62 70.02 L425.63 70.25 L428.65 70.49 L431.67 70.74 L434.68 71.02 L437.70 71.30 L440.72 71.60 L443.74 71.91 L446.75 72.24 L449.77 72.57 L452.79 72.91 L455.80 73.26 L458.82 73.62 L461.84 73.98 L464.86 74.35 L467.87 74.72 L470.89 75.09 L473.91 75.46 L476.92 75.84 L479.94 76.22 L482.96 76.62 L485.98 77.02 L488.99 77.44 L492.01 77.86 L495.03 78.30 L498.04 78.75 L501.06 79.21 L504.08 79.69 L507.10 80.18 L510.11 80.70 L513.13 81.24 L516.15 81.80 L519.17 82.38 L522.18 82.97 L525.20 83.57 L528.22 84.18 L531.23 84.80 L534.25 85.42 L537.27 86.04 L540.29 86.66 L543.30 87.28 L546.32 87.90 L549.34 88.53 L552.35 89.16 L555.37 89.81 L558.39 90.45 L561.41 91.11 L564.42 91.77 L567.44 92.43 L570.46 93.10 L573.47 93.78 L576.49 94.46 L579.51 95.15 L582.53 95.85 L585.54 96.55 L588.56 97.26 L591.58 97.97 L594.60 98.69 L597.61 99.42 L600.63 100.15 L603.65 100.89 L606.66 101.64 L609.68 102.40 L612.70 103.16 L615.72 103.94 L618.73 104.72 L621.75 105.50 L624.79 106.83 L627.82 108.15 L630.86 109.48 L633.89 110.80 L636.93 112.12 L639.96 113.44 L643.00 114.76 L646.04 116.08 L649.07 117.40 L652.11 118.71 L655.14 120.03 L658.18 121.34 L661.21 122.65 L664.25 123.96 L667.29 125.27 L670.32 126.58 L673.36 127.89 L676.39 129.20 L679.43 130.52 L682.46 131.83 L685.50 133.15 L688.54 134.47 L691.57 135.79 L694.61 137.12 L697.64 138.45 L700.68 139.77 L703.71 141.10 L706.75 142.45 L709.79 143.80 L712.82 145.17 L715.86 146.59 L718.89 148.03 L721.93 149.48 L724.96 150.91 L728.00 152.31 L731.04 153.65 L734.07 154.95 L737.11 156.22 L740.14 157.46 L743.18 158.68 L746.21 159.90 L749.25 161.13 L752.29 162.36 L755.32 163.62 L758.36 164.89 L761.39 166.18 L764.43 167.47 L767.46 168.76 L770.50 170.06 L773.54 171.37 L776.57 172.68 L779.61 173.99 L782.64 175.31 L785.68 176.63 L788.71 177.94 L791.75 179.26 L794.79 180.58 L797.82 181.90 L800.86 183.21 L803.89 184.52 L806.93 185.83 L809.96 187.14 L813.00 188.46 L816.04 189.77 L819.07 191.09 L822.11 192.40 L825.14 193.72 L828.18 195.03 L831.21 196.34 L834.25 197.65 L837.29 198.96 L840.32 200.27 L843.36 201.57 L846.39 202.87 L849.43 204.16 L852.46 205.46 L855.50 206.75 L858.54 208.04 L861.57 209.33 L864.61 210.62 L867.64 211.90 L870.68 213.19 L873.71 214.47 L876.75 215.75" fill="none" stroke="#0f4a88" stroke-width="2.45" stroke-linecap="round" stroke-linejoin="round"/>
<path d="M364.25 80.70 L365.08 80.74 L368.09 80.91 L371.11 81.08 L374.12 81.27 L377.14 81.47 L380.15 81.68 L383.17 81.90 L386.18 82.13 L389.20 82.37 L392.21 82.61 L395.23 82.86 L398.24 83.12 L401.26 83.39 L404.27 83.66 L407.29 83.93 L410.30 84.21 L413.32 84.49 L416.33 84.77 L419.35 85.06 L422.36 85.35 L425.38 85.64 L428.39 85.93 L431.41 86.24 L434.42 86.55 L437.44 86.87 L440.45 87.21 L443.47 87.55 L446.48 87.89 L449.50 88.24 L452.52 88.60 L455.53 88.97 L458.55 89.33 L461.56 89.71 L464.58 90.08 L467.59 90.46 L470.61 90.84 L473.62 91.22 L476.64 91.61 L479.65 91.99 L482.67 92.38 L485.68 92.77 L488.70 93.16 L491.71 93.57 L494.73 93.99 L497.74 94.42 L500.76 94.87 L503.77 95.34 L506.79 95.83 L509.80 96.35 L512.82 96.90 L515.83 97.47 L518.85 98.06 L521.86 98.68 L524.88 99.31 L527.89 99.95 L530.91 100.60 L533.92 101.26 L536.94 101.93 L539.95 102.59 L542.97 103.26 L545.98 103.96 L549.00 104.66 L552.02 105.38 L555.03 106.12 L558.05 106.85 L561.06 107.60 L564.08 108.34 L567.09 109.09 L570.11 109.83 L573.12 110.57 L576.14 111.31 L579.15 112.05 L582.17 112.79 L585.18 113.54 L588.20 114.29 L591.21 115.04 L594.23 115.80 L597.24 116.55 L600.26 117.31 L603.27 118.08 L606.29 118.84 L609.30 119.61 L612.32 120.39 L615.33 121.16 L618.35 121.95 L621.36 122.74 L624.38 123.53 L627.39 124.34 L630.41 125.15 L633.42 125.96 L636.44 126.77 L639.45 127.58 L642.47 128.39 L645.48 129.20 L648.50 130.00 L651.52 130.80 L654.53 131.59 L657.55 132.38 L660.56 133.16 L663.58 133.95 L666.59 134.73 L669.61 135.51 L672.62 136.30 L675.64 137.09 L678.65 137.89 L681.67 138.70 L684.68 139.51 L687.70 140.34 L690.71 141.18 L693.73 142.07 L696.74 142.98 L699.76 143.92 L702.77 144.88 L705.79 145.86 L708.80 146.85 L711.82 147.85 L714.83 148.86 L717.85 149.88 L720.86 150.89 L723.88 151.91 L726.89 152.94 L729.91 153.98 L732.92 155.03 L735.94 156.09 L738.95 157.15 L741.97 158.23 L744.98 159.31 L748.00 160.40 L752.29 162.36 L755.32 163.62 L758.36 164.89 L761.39 166.18 L764.43 167.47 L767.46 168.76 L770.50 170.06 L773.54 171.37 L776.57 172.68 L779.61 173.99 L782.64 175.31 L785.68 176.63 L788.71 177.94 L791.75 179.26 L794.79 180.58 L797.82 181.90 L800.86 183.21 L803.89 184.52 L806.93 185.83 L809.96 187.14 L813.00 188.46 L816.04 189.77 L819.07 191.09 L822.11 192.40 L825.14 193.72 L828.18 195.03 L831.21 196.34 L834.25 197.65 L837.29 198.96 L840.32 200.27 L843.36 201.57 L846.39 202.87 L849.43 204.16 L852.46 205.46 L855.50 206.75 L858.54 208.04 L861.57 209.33 L864.61 210.62 L867.64 211.90 L870.68 213.19 L873.71 214.47 L876.75 215.75" fill="none" stroke="#0f4a88" stroke-width="3.3" stroke-linecap="round" stroke-linejoin="round"/>
<path d="M167.50 284.50 L170.04 283.33 L173.08 281.92 L176.12 280.53 L179.16 279.16 L182.20 277.84 L185.24 276.58 L188.28 275.39 L191.32 274.30 L194.36 273.29 L197.40 272.29 L200.44 271.31 L203.48 270.34 L206.52 269.40 L209.56 268.48 L212.60 267.58 L215.64 266.73 L218.68 265.91 L221.72 265.13 L224.76 264.40 L227.80 263.72 L230.84 263.10 L233.88 262.53 L236.92 262.03 L239.96 261.61 L243.00 261.21 L246.03 260.82 L249.07 260.44 L252.11 260.08 L255.15 259.75 L258.19 259.46 L261.23 259.22 L264.27 259.04 L267.31 258.93 L270.35 258.90 L273.39 258.92 L276.43 258.97 L279.47 259.05 L282.51 259.16 L285.55 259.28 L288.59 259.43 L291.63 259.59 L294.67 259.77 L297.71 259.95 L300.75 260.15 L303.79 260.41 L306.83 260.75 L309.87 261.16 L312.91 261.64 L315.95 262.17 L318.99 262.75 L322.02 263.38 L325.06 264.03 L328.10 264.71 L331.14 265.41 L334.18 266.11 L337.22 266.84 L340.26 267.65 L343.30 268.54 L346.34 269.49 L349.38 270.51 L352.42 271.57 L355.46 272.67 L358.50 273.80" fill="none" stroke="#000" stroke-width="2.4" stroke-linecap="round" stroke-linejoin="round"/>
<path d="M364.25 244.71 L364.73 244.63 L367.75 244.10 L370.76 243.58 L373.77 243.07 L376.78 242.56 L379.79 242.05 L382.80 241.55 L385.82 241.07 L388.83 240.59 L391.84 240.12 L394.85 239.66 L397.86 239.21 L400.88 238.78 L403.89 238.36 L406.90 237.97 L409.91 237.58 L412.92 237.20 L415.94 236.81 L418.95 236.41 L421.96 236.00 L424.97 235.59 L427.98 235.17 L430.99 234.75 L434.01 234.33 L437.02 233.90 L440.03 233.48 L443.04 233.06 L446.05 232.64 L449.07 232.22 L452.08 231.81 L455.09 231.40 L458.10 231.00 L461.11 230.60 L464.12 230.22 L467.14 229.84 L470.15 229.47 L473.16 229.11 L476.17 228.77 L479.18 228.42 L482.20 228.08 L485.21 227.75 L488.22 227.41 L491.23 227.08 L494.24 226.76 L497.26 226.44 L500.27 226.13 L503.28 225.83 L506.29 225.53 L509.30 225.24 L512.31 224.96 L515.33 224.69 L518.34 224.43 L521.35 224.18 L524.36 223.95 L527.37 223.72 L530.39 223.50 L533.40 223.28 L536.41 223.06 L539.42 222.85 L542.43 222.65 L545.45 222.44 L548.46 222.25 L551.47 222.06 L554.48 221.87 L557.49 221.69 L560.50 221.52 L563.52 221.36 L566.53 221.20 L569.54 221.05 L572.55 220.91 L575.56 220.78 L578.58 220.66 L581.59 220.54 L584.60 220.43 L587.61 220.32 L590.62 220.21 L593.64 220.11 L596.65 220.01 L599.66 219.91 L602.67 219.82 L605.68 219.73 L608.69 219.65 L611.71 219.57 L614.72 219.49 L617.73 219.42 L620.74 219.36 L623.75 219.30 L626.77 219.25 L629.78 219.20 L632.79 219.16 L635.80 219.12 L638.81 219.08 L641.82 219.04 L644.84 219.00 L647.85 218.97 L650.86 218.94 L653.87 218.92 L656.88 218.90 L659.90 218.90 L662.91 218.90 L665.92 218.92 L668.93 218.94 L671.94 218.97 L674.96 219.01 L677.97 219.05 L680.98 219.10 L683.99 219.15 L687.00 219.20 L690.01 219.26 L693.03 219.32 L696.04 219.40 L699.05 219.50 L702.06 219.62 L705.07 219.76 L708.09 219.91 L711.10 220.07 L714.11 220.24 L717.12 220.42 L720.13 220.60 L723.15 220.79 L726.16 220.97 L729.17 221.15 L732.18 221.33 L735.19 221.51 L738.20 221.70 L741.22 221.89 L744.23 222.08 L747.24 222.28 L750.25 222.49 L753.26 222.70 L756.28 222.92 L759.29 223.15 L762.30 223.38 L765.31 223.62 L768.32 223.86 L771.33 224.11 L774.35 224.38 L777.36 224.65 L780.37 224.94 L783.38 225.24 L786.39 225.54 L789.41 225.86 L792.42 226.18 L795.43 226.51 L798.44 226.85 L801.45 227.19 L804.47 227.54 L807.48 227.89 L810.49 228.25 L813.50 228.62 L816.51 229.00 L819.52 229.38 L822.54 229.78 L825.55 230.18 L828.56 230.59 L831.57 231.01 L834.58 231.44 L837.60 231.88 L840.61 232.33 L843.62 232.79 L846.63 233.26 L849.64 233.74 L852.66 234.25 L855.67 234.76 L858.68 235.30 L861.69 235.84 L864.70 236.40 L867.71 236.97 L870.73 237.55 L873.74 238.15 L876.75 238.75" fill="none" stroke="#000" stroke-width="2.2" stroke-linecap="round" stroke-linejoin="round"/>
<path d="M364.25 255.62 L364.73 255.53 L367.75 255.04 L370.76 254.56 L373.77 254.09 L376.78 253.64 L379.79 253.20 L382.80 252.76 L385.82 252.33 L388.83 251.90 L391.84 251.47 L394.85 251.04 L397.86 250.61 L400.88 250.17 L403.89 249.73 L406.90 249.29 L409.91 248.86 L412.92 248.43 L415.94 248.01 L418.95 247.59 L421.96 247.17 L424.97 246.76 L427.98 246.34 L430.99 245.92 L434.01 245.50 L437.02 245.09 L440.03 244.67 L443.04 244.26 L446.05 243.86 L449.07 243.46 L452.08 243.06 L455.09 242.68 L458.10 242.29 L461.11 241.92 L464.12 241.55 L467.14 241.19 L470.15 240.84 L473.16 240.50 L476.17 240.17 L479.18 239.85 L482.20 239.53 L485.21 239.21 L488.22 238.90 L491.23 238.59 L494.24 238.29 L497.26 237.99 L500.27 237.70 L503.28 237.42 L506.29 237.14 L509.30 236.87 L512.31 236.61 L515.33 236.36 L518.34 236.11 L521.35 235.88 L524.36 235.65 L527.37 235.43 L530.39 235.21 L533.40 234.99 L536.41 234.78 L539.42 234.57 L542.43 234.37 L545.45 234.17 L548.46 233.97 L551.47 233.78 L554.48 233.60 L557.49 233.42 L560.50 233.25 L563.52 233.08 L566.53 232.92 L569.54 232.77 L572.55 232.62 L575.56 232.49 L578.58 232.36 L581.59 232.24 L584.60 232.12 L587.61 232.00 L590.62 231.89 L593.64 231.78 L596.65 231.67 L599.66 231.57 L602.67 231.47 L605.68 231.37 L608.69 231.28 L611.71 231.19 L614.72 231.11 L617.73 231.04 L620.74 230.97 L623.75 230.91 L626.77 230.85 L629.78 230.80 L632.79 230.76 L635.80 230.72 L638.81 230.67 L641.82 230.63 L644.84 230.60 L647.85 230.57 L650.86 230.54 L653.87 230.52 L656.88 230.50 L659.90 230.50 L662.91 230.50 L665.92 230.52 L668.93 230.54 L671.94 230.57 L674.96 230.61 L677.97 230.66 L680.98 230.70 L683.99 230.75 L687.00 230.81 L690.01 230.86 L693.03 230.92 L696.04 230.98 L699.05 231.06 L702.06 231.15 L705.07 231.24 L708.09 231.35 L711.10 231.46 L714.11 231.58 L717.12 231.71 L720.13 231.84 L723.15 231.97 L726.16 232.12 L729.17 232.26 L732.18 232.41 L735.19 232.57 L738.20 232.75 L741.22 232.93 L744.23 233.13 L747.24 233.34 L750.25 233.56 L753.26 233.79 L756.28 234.02 L759.29 234.27 L762.30 234.52 L765.31 234.78 L768.32 235.05 L771.33 235.32 L774.35 235.62 L777.36 235.94 L780.37 236.28 L783.38 236.64 L786.39 237.01 L789.41 237.39 L792.42 237.78 L795.43 238.17 L798.44 238.56 L801.45 238.95 L804.47 239.33 L807.48 239.71 L810.49 240.09 L813.50 240.47 L816.51 240.85 L819.52 241.23 L822.54 241.62 L825.55 242.00 L828.56 242.40 L831.57 242.79 L834.58 243.19 L837.60 243.59 L840.61 244.00 L843.62 244.41 L846.63 244.83 L849.64 245.25 L852.66 245.67 L855.67 246.11 L858.68 246.54 L861.69 246.98 L864.70 247.43 L867.71 247.88 L870.73 248.33 L873.74 248.79 L876.75 249.25" fill="none" stroke="#000" stroke-width="3.5" stroke-linecap="round" stroke-linejoin="round"/>
<path d="M51.50 647.40 L54.52 646.97 L57.55 646.54 L60.57 646.11 L63.60 645.68 L66.62 645.25 L69.64 644.81 L72.67 644.38 L75.69 643.94 L78.72 643.51 L81.74 643.07 L84.76 642.63 L87.79 642.19 L90.81 641.75 L93.84 641.32 L96.86 640.87 L99.89 640.43 L102.91 639.99 L105.93 639.55 L108.96 639.10 L111.98 638.66 L115.01 638.21 L118.03 637.77 L121.05 637.32 L124.08 636.87 L127.10 636.42 L130.13 635.97 L133.15 635.52 L136.17 635.07 L139.20 634.62 L142.22 634.17 L145.25 633.71 L148.27 633.26 L151.29 632.81 L154.32 632.35 L157.34 631.90 L160.37 631.44 L163.39 630.99 L166.41 630.53 L169.44 630.08 L172.46 629.62 L175.49 629.17 L178.51 628.71 L181.53 628.25 L184.56 627.79 L187.58 627.34 L190.61 626.88 L193.63 626.42 L196.66 625.95 L199.68 625.49 L202.70 625.03 L205.73 624.56 L208.75 624.09 L211.78 623.62 L214.80 623.15 L217.82 622.68 L220.85 622.20 L223.87 621.73 L226.90 621.25 L229.92 620.76 L232.94 620.28 L235.97 619.79 L238.99 619.30 L242.02 618.81 L245.04 618.32 L248.06 617.82 L251.09 617.32 L254.11 616.81 L257.14 616.30 L260.16 615.79 L263.18 615.27 L266.21 614.75 L269.23 614.22 L272.26 613.69 L275.28 613.15 L278.30 612.62 L281.33 612.08 L284.35 611.53 L287.38 610.99 L290.40 610.44 L293.43 609.89 L296.45 609.34 L299.47 608.79 L302.50 608.23 L305.52 607.68 L308.55 607.12 L311.57 606.57 L314.59 606.01 L317.62 605.45 L320.64 604.89 L323.67 604.34 L326.69 603.78 L329.71 603.23 L332.74 602.67 L335.76 602.12 L338.79 601.57 L341.81 601.02 L344.83 600.47 L347.86 599.92 L350.88 599.38 L353.91 598.84 L356.93 598.30 L359.95 597.77 L362.98 597.23 L366.00 596.71 L369.03 596.18 L371.25 595.80" fill="none" stroke="#0f4a88" stroke-width="1.0" stroke-opacity="0.8"/>
<path d="M51.50 650.50 L54.52 650.08 L57.55 649.65 L60.57 649.22 L63.60 648.80 L66.62 648.37 L69.64 647.94 L72.67 647.51 L75.69 647.08 L78.71 646.64 L81.74 646.21 L84.76 645.78 L87.79 645.34 L90.81 644.91 L93.83 644.47 L96.86 644.03 L99.88 643.59 L102.90 643.16 L105.93 642.72 L108.95 642.27 L111.98 641.83 L115.00 641.39 L118.02 640.95 L121.05 640.50 L124.07 640.06 L127.10 639.61 L130.12 639.16 L133.14 638.71 L136.17 638.26 L139.19 637.82 L142.21 637.36 L145.24 636.91 L148.26 636.46 L151.29 636.01 L154.31 635.55 L157.33 635.10 L160.36 634.64 L163.38 634.19 L166.40 633.73 L169.43 633.27 L172.45 632.82 L175.48 632.36 L178.50 631.90 L181.52 631.44 L184.55 630.98 L187.57 630.52 L190.60 630.05 L193.62 629.59 L196.64 629.12 L199.67 628.66 L202.69 628.19 L205.71 627.72 L208.74 627.25 L211.76 626.78 L214.79 626.31 L217.81 625.83 L220.83 625.36 L223.86 624.88 L226.88 624.40 L229.90 623.92 L232.93 623.44 L235.95 622.96 L238.98 622.48 L242.00 621.99 L245.02 621.51 L248.05 621.02 L251.07 620.53 L254.10 620.03 L257.12 619.53 L260.14 619.03 L263.17 618.53 L266.19 618.02 L269.21 617.51 L272.24 617.00 L275.26 616.48 L278.29 615.96 L281.31 615.44 L284.33 614.92 L287.36 614.40 L290.38 613.88 L293.40 613.35 L296.43 612.82 L299.45 612.30 L302.48 611.77 L305.50 611.24 L308.52 610.71 L311.55 610.18 L314.57 609.65 L317.60 609.13 L320.62 608.60 L323.64 608.07 L326.67 607.55 L329.69 607.02 L332.71 606.50 L335.74 605.98 L338.76 605.46 L341.79 604.95 L344.81 604.43 L347.83 603.92 L350.86 603.41 L353.88 602.91 L356.90 602.41 L359.93 601.91 L362.95 601.41 L364.25 601.20" fill="none" stroke="#0f4a88" stroke-width="1.0" stroke-opacity="0.8"/>
<path d="M51.50 652.80 L54.52 652.39 L57.55 651.98 L60.57 651.56 L63.60 651.15 L66.62 650.74 L69.64 650.32 L72.67 649.90 L75.69 649.48 L78.72 649.06 L81.74 648.64 L84.76 648.22 L87.79 647.80 L90.81 647.38 L93.84 646.95 L96.86 646.53 L99.89 646.10 L102.91 645.68 L105.93 645.25 L108.96 644.82 L111.98 644.39 L115.01 643.96 L118.03 643.53 L121.05 643.09 L124.08 642.66 L127.10 642.22 L130.13 641.79 L133.15 641.35 L136.17 640.91 L139.20 640.47 L142.22 640.04 L145.25 639.59 L148.27 639.15 L151.29 638.71 L154.32 638.27 L157.34 637.82 L160.37 637.38 L163.39 636.93 L166.41 636.49 L169.44 636.04 L172.46 635.59 L175.49 635.14 L178.51 634.69 L181.53 634.24 L184.56 633.79 L187.58 633.34 L190.61 632.89 L193.63 632.43 L196.66 631.97 L199.68 631.52 L202.70 631.06 L205.73 630.60 L208.75 630.14 L211.78 629.68 L214.80 629.21 L217.82 628.75 L220.85 628.28 L223.87 627.81 L226.90 627.34 L229.92 626.87 L232.94 626.40 L235.97 625.92 L238.99 625.45 L242.02 624.97 L245.04 624.49 L248.06 624.01 L251.09 623.53 L254.11 623.04 L257.14 622.55 L260.16 622.06 L263.18 621.57 L266.21 621.08 L269.23 620.59 L272.26 620.09 L275.28 619.59 L278.30 619.09 L281.33 618.59 L284.35 618.09 L287.38 617.58 L290.40 617.08 L293.43 616.57 L296.45 616.06 L299.47 615.55 L302.50 615.04 L305.52 614.53 L308.55 614.02 L311.57 613.50 L314.59 612.99 L317.62 612.47 L320.64 611.95 L323.67 611.43 L326.69 610.91 L329.71 610.39 L332.74 609.87 L335.76 609.35 L338.79 608.83 L341.81 608.31 L344.83 607.78 L347.86 607.26 L350.88 606.74 L353.91 606.21 L356.93 605.69 L359.95 605.16 L362.98 604.64 L366.00 604.11 L369.03 603.59 L371.25 603.20" fill="none" stroke="#0f4a88" stroke-width="1.0" stroke-opacity="0.8"/>
<path d="M51.50 655.60 L54.52 655.20 L57.53 654.80 L60.55 654.40 L63.56 654.00 L66.58 653.59 L69.59 653.19 L72.61 652.78 L75.62 652.38 L78.64 651.97 L81.65 651.56 L84.67 651.15 L87.68 650.74 L90.70 650.33 L93.71 649.91 L96.73 649.50 L99.74 649.08 L102.76 648.67 L105.77 648.25 L108.79 647.83 L111.80 647.41 L114.82 646.99 L117.83 646.57 L120.85 646.14 L123.87 645.72 L126.88 645.29 L129.90 644.87 L132.91 644.44 L135.93 644.01 L138.94 643.58 L141.96 643.15 L144.97 642.72 L147.99 642.29 L151.00 641.86 L154.02 641.42 L157.03 640.99 L160.05 640.55 L163.06 640.11 L166.08 639.68 L169.09 639.24 L172.11 638.80 L175.12 638.35 L178.14 637.91 L181.15 637.47 L184.17 637.02 L187.18 636.58 L190.20 636.13 L193.22 635.68 L196.23 635.24 L199.25 634.79 L202.26 634.33 L205.28 633.88 L208.29 633.43 L211.31 632.97 L214.32 632.51 L217.34 632.06 L220.35 631.60 L223.37 631.14 L226.38 630.67 L229.40 630.21 L232.41 629.74 L235.43 629.28 L238.44 628.81 L241.46 628.34 L244.47 627.87 L247.49 627.40 L250.50 626.92 L253.52 626.44 L256.53 625.96 L259.55 625.47 L262.57 624.98 L265.58 624.49 L268.60 623.99 L271.61 623.49 L274.63 622.99 L277.64 622.48 L280.66 621.98 L283.67 621.47 L286.69 620.95 L289.70 620.44 L292.72 619.93 L295.73 619.41 L298.75 618.90 L301.76 618.38 L304.78 617.86 L307.79 617.34 L310.81 616.83 L313.82 616.31 L316.84 615.80 L319.85 615.28 L322.87 614.77 L325.88 614.26 L328.90 613.75 L331.92 613.24 L334.93 612.74 L337.95 612.23 L340.96 611.74 L343.98 611.24 L346.99 610.75 L350.01 610.26 L353.02 609.77 L356.04 609.29 L359.05 608.81 L362.07 608.34 L364.25 608.00" fill="none" stroke="#0f4a88" stroke-width="1.0" stroke-opacity="0.8"/>
<path d="M51.50 649.20 L54.51 649.21 L57.53 649.21 L60.54 649.22 L63.55 649.22 L66.56 649.23 L69.58 649.23 L72.59 649.24 L75.60 649.24 L78.61 649.25 L81.63 649.26 L84.64 649.26 L87.65 649.27 L90.67 649.27 L93.68 649.28 L96.69 649.29 L99.70 649.29 L102.72 649.30 L105.73 649.30 L108.74 649.31 L111.76 649.31 L114.77 649.32 L117.78 649.33 L120.79 649.33 L123.81 649.34 L126.82 649.35 L129.83 649.35 L132.84 649.36 L135.86 649.36 L138.87 649.37 L141.88 649.38 L144.90 649.38 L147.91 649.39 L150.92 649.39 L153.93 649.40 L156.95 649.41 L159.96 649.41 L162.97 649.42 L165.99 649.43 L169.00 649.43 L172.01 649.44 L175.02 649.45 L178.04 649.45 L181.05 649.46 L184.06 649.47 L187.07 649.47 L190.09 649.48 L193.10 649.48 L196.11 649.49 L199.13 649.50 L202.14 649.50 L205.15 649.51 L208.16 649.52 L211.18 649.53 L214.19 649.53 L217.20 649.54 L220.22 649.55 L223.23 649.56 L226.24 649.57 L229.25 649.58 L232.27 649.59 L235.28 649.60 L238.29 649.60 L241.30 649.61 L244.32 649.62 L247.33 649.63 L250.34 649.64 L253.36 649.65 L256.37 649.66 L259.38 649.67 L262.39 649.68 L265.41 649.69 L268.42 649.70 L271.43 649.71 L274.45 649.72 L277.46 649.73 L280.47 649.74 L283.48 649.75 L286.50 649.76 L289.51 649.77 L292.52 649.78 L295.53 649.79 L298.55 649.79 L301.56 649.80 L304.57 649.81 L307.59 649.82 L310.60 649.83 L313.61 649.83 L316.62 649.84 L319.64 649.85 L322.65 649.85 L325.66 649.86 L328.68 649.87 L331.69 649.87 L334.70 649.88 L337.71 649.88 L340.73 649.88 L343.74 649.89 L346.75 649.89 L349.76 649.89 L352.78 649.90 L355.79 649.90 L358.80 649.90 L361.82 649.90 L364.25 649.90" fill="none" stroke="#000" stroke-width="1.1" stroke-opacity="0.9"/>
<path d="M51.5 647.6 L58 648.6 L68 650.2 L80 650.4" stroke="#000" stroke-width="1.2" fill="none"/>
<path d="M51.5 686.2 L167 686.5" stroke="#222" stroke-width="1" fill="none"/>
<path d="M51.5 689.2 L167 686.4 M51.5 690.6 L167 688.0" stroke="#0f4a88" stroke-width="1" stroke-opacity="0.7" fill="none"/>
<path d="M167.50 686.00 L170.58 685.92 L173.66 685.85 L176.74 685.78 L179.82 685.71 L182.90 685.64 L185.98 685.57 L189.06 685.51 L192.15 685.45 L195.23 685.39 L198.31 685.33 L201.39 685.27 L204.47 685.22 L207.55 685.17 L210.63 685.12 L213.71 685.08 L216.79 685.04 L219.87 685.00 L222.95 684.97 L226.03 684.93 L229.11 684.89 L232.19 684.86 L235.27 684.82 L238.35 684.79 L241.44 684.76 L244.52 684.73 L247.60 684.70 L250.68 684.67 L253.76 684.65 L256.84 684.63 L259.92 684.62 L263.00 684.61 L266.08 684.60 L269.16 684.60 L272.24 684.60 L275.32 684.61 L278.40 684.62 L281.48 684.64 L284.56 684.65 L287.65 684.67 L290.73 684.69 L293.81 684.72 L296.89 684.74 L299.97 684.77 L303.05 684.79 L306.13 684.82 L309.21 684.86 L312.29 684.90 L315.37 684.95 L318.45 685.00 L321.53 685.06 L324.61 685.11 L327.69 685.17 L330.77 685.23 L333.85 685.28 L336.94 685.33 L340.02 685.38 L343.10 685.44 L346.18 685.49 L349.26 685.54 L352.34 685.59 L355.42 685.65 L358.50 685.70" fill="none" stroke="#0f4a88" stroke-width="2.5" stroke-linecap="round" stroke-linejoin="round"/>
<path d="M167.50 686.70 L170.58 686.72 L173.66 686.75 L176.74 686.77 L179.82 686.79 L182.90 686.81 L185.98 686.82 L189.06 686.84 L192.15 686.85 L195.23 686.86 L198.31 686.87 L201.39 686.88 L204.47 686.89 L207.55 686.89 L210.63 686.90 L213.71 686.90 L216.79 686.90 L219.87 686.90 L222.95 686.90 L226.03 686.89 L229.11 686.88 L232.19 686.88 L235.27 686.87 L238.35 686.86 L241.44 686.85 L244.52 686.84 L247.60 686.82 L250.68 686.81 L253.76 686.79 L256.84 686.77 L259.92 686.75 L263.00 686.73 L266.08 686.71 L269.16 686.69 L272.24 686.65 L275.32 686.60 L278.40 686.53 L281.48 686.46 L284.56 686.37 L287.65 686.27 L290.73 686.18 L293.81 686.05 L296.89 685.89 L299.97 685.72 L303.05 685.55 L306.13 685.38 L309.21 685.21 L312.29 685.03 L315.37 684.85 L318.45 684.66 L321.53 684.47 L324.61 684.28 L327.69 684.09 L330.77 683.90 L333.85 683.71 L336.94 683.52 L340.02 683.33 L343.10 683.15 L346.18 682.96 L349.26 682.77 L352.34 682.58 L355.42 682.39 L358.50 682.20" fill="none" stroke="#000" stroke-width="2.3" stroke-linecap="round" stroke-linejoin="round"/>
<path d="M371.25 595.80 L372.05 595.66 L375.07 595.14 L378.10 594.62 L381.12 594.09 L384.15 593.57 L387.17 593.04 L390.20 592.52 L393.22 591.99 L396.24 591.47 L399.27 590.95 L402.29 590.43 L405.32 589.92 L408.34 589.42 L411.36 588.91 L414.39 588.42 L417.41 587.93 L420.44 587.45 L423.46 586.98 L426.48 586.52 L429.51 586.06 L432.53 585.62 L435.56 585.19 L438.58 584.77 L441.60 584.35 L444.63 583.94 L447.65 583.54 L450.68 583.14 L453.70 582.75 L456.72 582.36 L459.75 581.98 L462.77 581.60 L465.80 581.22 L468.82 580.85 L471.84 580.48 L474.87 580.11 L477.89 579.74 L480.92 579.37 L483.94 579.00 L486.97 578.63 L489.99 578.25 L493.01 577.88 L496.04 577.50 L499.06 577.12 L502.09 576.73 L505.11 576.34 L508.13 575.95 L511.16 575.55 L514.18 575.15 L517.21 574.75 L520.23 574.35 L523.25 573.95 L526.28 573.55 L529.30 573.15 L532.33 572.75 L535.35 572.36 L538.37 571.97 L541.40 571.59 L544.42 571.21 L547.45 570.84 L550.47 570.48 L553.49 570.13 L556.52 569.78 L559.54 569.45 L562.57 569.12 L565.59 568.80 L568.61 568.48 L571.64 568.17 L574.66 567.86 L577.69 567.55 L580.71 567.25 L583.74 566.95 L586.76 566.66 L589.78 566.37 L592.81 566.09 L595.83 565.81 L598.86 565.53 L601.88 565.27 L604.90 565.00 L607.93 564.74 L610.95 564.49 L613.98 564.24 L617.00 564.00 L640.00 564.00 L692.50 564.00 L756.00 564.00 L877.00 563.90" fill="none" stroke="#0f4a88" stroke-width="2.2" stroke-linecap="round" stroke-linejoin="round"/>
<path d="M371.25 603.20 L372.05 603.06 L375.07 602.53 L378.10 601.98 L381.12 601.43 L384.15 600.86 L387.17 600.30 L390.20 599.73 L393.22 599.15 L396.24 598.58 L399.27 598.01 L402.29 597.44 L405.32 596.88 L408.34 596.32 L411.36 595.78 L414.39 595.24 L417.41 594.71 L420.44 594.20 L423.46 593.70 L426.48 593.22 L429.51 592.76 L432.53 592.32 L435.56 591.90 L438.58 591.49 L441.60 591.09 L444.63 590.69 L447.65 590.31 L450.68 589.94 L453.70 589.57 L456.72 589.21 L459.75 588.86 L462.77 588.51 L465.80 588.17 L468.82 587.82 L471.84 587.49 L474.87 587.15 L477.89 586.81 L480.92 586.48 L483.94 586.14 L486.97 585.80 L489.99 585.46 L493.01 585.11 L496.04 584.77 L499.06 584.41 L502.09 584.05 L505.11 583.69 L508.13 583.32 L511.16 582.96 L514.18 582.59 L517.21 582.22 L520.23 581.85 L523.25 581.48 L526.28 581.12 L529.30 580.75 L532.33 580.38 L535.35 580.02 L538.37 579.66 L541.40 579.30 L544.42 578.95 L547.45 578.60 L550.47 578.25 L553.49 577.91 L556.52 577.58 L559.54 577.25 L562.57 576.93 L565.59 576.60 L568.61 576.29 L571.64 575.97 L574.66 575.66 L577.69 575.35 L580.71 575.04 L583.74 574.74 L586.76 574.44 L589.78 574.14 L592.81 573.85 L595.83 573.55 L598.86 573.26 L601.88 572.98 L604.90 572.70 L607.93 572.42 L610.95 572.14 L613.98 571.87 L617.00 571.60 L618.00 571.61" fill="none" stroke="#0f4a88" stroke-width="2.0" stroke-linecap="round" stroke-linejoin="round"/>
<path d="M616.00 571.69 L617.00 571.60 L640.00 571.80 L692.50 572.00 L756.00 572.30 L877.00 572.50" fill="none" stroke="#0f4a88" stroke-width="1.4" stroke-linecap="round" stroke-linejoin="round"/>
<path d="M364.25 601.20 L365.98 600.92 L369.00 600.42 L372.02 599.93 L375.05 599.43 L378.07 598.93 L381.10 598.44 L384.12 597.94 L387.14 597.44 L390.17 596.95 L393.19 596.46 L396.21 595.97 L399.24 595.48 L402.26 595.00 L405.29 594.52 L408.31 594.05 L411.33 593.59 L414.36 593.13 L417.38 592.67 L420.40 592.23 L423.43 591.79 L426.45 591.36 L429.48 590.94 L432.50 590.53 L435.52 590.13 L438.55 589.74 L441.57 589.35 L444.60 588.97 L447.62 588.60 L450.64 588.23 L453.67 587.87 L456.69 587.52 L459.71 587.16 L462.74 586.81 L465.76 586.47 L468.79 586.12 L471.81 585.78 L474.83 585.44 L477.86 585.10 L480.88 584.76 L483.90 584.42 L486.93 584.08 L489.95 583.74 L492.98 583.40 L496.00 583.06 L499.02 582.71 L502.05 582.36 L505.07 582.01 L508.10 581.65 L511.12 581.30 L514.14 580.94 L517.17 580.58 L520.19 580.22 L523.21 579.86 L526.24 579.50 L529.26 579.14 L532.29 578.79 L535.31 578.44 L538.33 578.10 L541.36 577.76 L544.38 577.42 L547.40 577.09 L550.43 576.77 L553.45 576.45 L556.48 576.15 L559.50 575.85 L562.52 575.56 L565.55 575.27 L568.57 574.99 L571.60 574.71 L574.62 574.44 L577.64 574.17 L580.67 573.90 L583.69 573.64 L586.71 573.38 L589.74 573.13 L592.76 572.88 L595.79 572.63 L598.81 572.39 L601.83 572.15 L604.86 571.91 L607.88 571.68 L610.90 571.45 L613.93 571.23 L616.95 571.00 L619.98 570.79 L623.00 570.58 L626.02 570.38 L629.05 570.19 L632.07 569.99 L635.10 569.80 L638.12 569.61 L641.14 569.42 L644.17 569.22 L647.19 569.02 L650.21 568.81 L653.24 568.59 L656.26 568.36 L659.29 568.12 L662.31 567.89 L665.33 567.65 L668.36 567.42 L671.38 567.19 L674.40 566.97 L677.43 566.76 L680.45 566.57 L683.48 566.38 L686.50 566.22 L689.52 566.07 L692.55 565.93 L695.57 565.80 L698.60 565.68 L701.62 565.55 L704.64 565.43 L707.67 565.31 L710.69 565.19 L713.71 565.08 L716.74 564.97 L719.76 564.86 L722.79 564.77 L725.81 564.68 L728.83 564.59 L731.86 564.51 L734.88 564.43 L737.90 564.35 L740.93 564.28 L743.95 564.22 L746.98 564.16 L750.00 564.10 L877.00 564.00" fill="none" stroke="#0f4a88" stroke-width="3.4" stroke-linecap="round" stroke-linejoin="round"/>
<path d="M364.25 608.00 L365.08 607.87 L368.10 607.40 L371.11 606.94 L374.13 606.47 L377.14 606.00 L380.16 605.53 L383.17 605.07 L386.19 604.60 L389.20 604.14 L392.22 603.68 L395.23 603.22 L398.25 602.77 L401.27 602.32 L404.28 601.88 L407.30 601.44 L410.31 601.00 L413.33 600.58 L416.34 600.16 L419.36 599.74 L422.37 599.34 L425.39 598.94 L428.40 598.55 L431.42 598.17 L434.43 597.80 L437.45 597.44 L440.46 597.08 L443.48 596.74 L446.49 596.39 L449.51 596.06 L452.52 595.73 L455.54 595.40 L458.55 595.08 L461.57 594.76 L464.58 594.45 L467.60 594.13 L470.62 593.82 L473.63 593.52 L476.65 593.21 L479.66 592.90 L482.68 592.59 L485.69 592.29 L488.71 591.98 L491.72 591.67 L494.74 591.35 L497.75 591.04 L500.77 590.72 L503.78 590.40 L506.80 590.07 L509.81 589.75 L512.83 589.42 L515.84 589.09 L518.86 588.76 L521.87 588.43 L524.89 588.10 L527.90 587.78 L530.92 587.45 L533.93 587.13 L536.95 586.81 L539.97 586.49 L542.98 586.18 L546.00 585.87 L549.01 585.56 L552.03 585.26 L555.04 584.97 L558.06 584.68 L561.07 584.40 L564.09 584.13 L567.10 583.86 L570.12 583.60 L573.13 583.34 L576.15 583.09 L579.16 582.85 L582.18 582.60 L585.19 582.36 L588.21 582.12 L591.22 581.88 L594.24 581.64 L597.25 581.40 L600.27 581.16 L603.28 580.91 L606.30 580.66 L609.32 580.41 L612.33 580.16 L615.35 579.90 L618.36 579.63 L621.38 579.34 L624.39 579.05 L627.41 578.74 L630.42 578.43 L633.44 578.13 L636.45 577.83 L639.47 577.55 L642.48 577.28 L645.50 577.04 L648.51 576.83 L651.53 576.63 L654.54 576.44 L657.56 576.25 L660.57 576.08 L663.59 575.91 L666.60 575.74 L669.62 575.59 L672.63 575.44 L675.65 575.30 L678.67 575.16 L681.68 575.03 L684.70 574.91 L687.71 574.80 L690.73 574.71 L693.74 574.62 L696.76 574.53 L699.77 574.43 L702.79 574.31 L705.80 574.17 L708.82 574.02 L711.83 573.86 L714.85 573.69 L717.86 573.54 L720.88 573.38 L723.89 573.25 L726.91 573.12 L729.92 573.01 L732.94 572.89 L735.95 572.79 L738.97 572.69 L741.98 572.59 L745.00 572.50 L877.00 572.60" fill="none" stroke="#0f4a88" stroke-width="2.4" stroke-linecap="round" stroke-linejoin="round"/>
<path d="M364.25 649.90 L364.83 649.90 L367.84 649.90 L370.85 649.90 L373.87 649.89 L376.88 649.89 L379.89 649.89 L382.91 649.88 L385.92 649.87 L388.93 649.87 L391.94 649.86 L394.96 649.85 L397.97 649.84 L400.98 649.83 L403.99 649.82 L407.01 649.81 L410.02 649.80 L413.03 649.79 L416.05 649.77 L419.06 649.76 L422.07 649.75 L425.08 649.73 L428.10 649.72 L431.11 649.70 L434.12 649.69 L437.14 649.68 L440.15 649.66 L443.16 649.65 L446.17 649.63 L449.19 649.62 L452.20 649.60 L455.21 649.59 L458.22 649.57 L461.24 649.56 L464.25 649.54 L467.26 649.53 L470.28 649.51 L473.29 649.50 L476.30 649.49 L479.31 649.47 L482.33 649.46 L485.34 649.45 L488.35 649.44 L491.36 649.43 L494.38 649.42 L497.39 649.41 L500.40 649.40 L503.42 649.39 L506.43 649.38 L509.44 649.38 L512.45 649.37 L515.47 649.36 L518.48 649.36 L521.49 649.35 L524.51 649.34 L527.52 649.34 L530.53 649.33 L533.54 649.33 L536.56 649.32 L539.57 649.32 L542.58 649.31 L545.59 649.30 L548.61 649.30 L551.62 649.29 L554.63 649.28 L557.65 649.28 L560.66 649.27 L563.67 649.26 L566.68 649.25 L569.70 649.24 L572.71 649.23 L575.72 649.22 L578.74 649.21 L581.75 649.19 L584.76 649.18 L587.77 649.16 L590.79 649.13 L593.80 649.11 L596.81 649.08 L599.82 649.05 L602.84 649.01 L605.85 648.98 L608.86 648.93 L611.88 648.89 L614.89 648.84 L617.90 648.79 L620.91 648.73 L623.93 648.65 L626.94 648.55 L629.95 648.44 L632.97 648.32 L635.98 648.18 L638.99 648.04 L642.00 647.90 L645.02 647.75 L648.03 647.60 L651.04 647.45 L654.05 647.29 L657.07 647.13 L660.08 646.95 L663.09 646.77 L666.11 646.58 L669.12 646.39 L672.13 646.19 L675.14 645.98 L678.16 645.76 L681.17 645.54 L684.18 645.31 L687.20 645.08 L690.21 644.84 L693.22 644.60 L696.23 644.35 L699.25 644.09 L702.26 643.82 L705.27 643.54 L708.28 643.26 L711.30 642.97 L714.31 642.66 L717.32 642.36 L720.34 642.04 L723.35 641.72 L726.36 641.39 L729.37 641.05 L732.39 640.71 L735.40 640.36 L738.41 640.01 L741.43 639.65 L744.44 639.29 L747.45 638.92 L750.46 638.54 L753.48 638.16 L756.49 637.76 L759.50 637.34 L762.51 636.91 L765.53 636.48 L768.54 636.03 L771.55 635.57 L774.57 635.11 L777.58 634.63 L780.59 634.16 L783.60 633.67 L786.62 633.19 L789.63 632.70 L792.64 632.21 L795.66 631.72 L798.67 631.22 L801.68 630.74 L804.69 630.25 L807.71 629.76 L810.72 629.27 L813.73 628.77 L816.74 628.27 L819.76 627.77 L822.77 627.26 L825.78 626.74 L828.80 626.23 L831.81 625.71 L834.82 625.20 L837.83 624.68 L840.85 624.16 L843.86 623.65 L846.87 623.13 L849.89 622.62 L852.90 622.11 L855.91 621.60 L858.92 621.08 L861.94 620.57 L864.95 620.06 L867.96 619.54 L870.97 619.03 L873.99 618.51 L877.00 618.00" fill="none" stroke="#000" stroke-width="3.6" stroke-linecap="round" stroke-linejoin="round"/>
<path d="M371.25 648.80 L373.87 648.79 L376.88 648.79 L379.89 648.79 L382.91 648.78 L385.92 648.77 L388.93 648.77 L391.94 648.76 L394.96 648.75 L397.97 648.74 L400.98 648.73 L403.99 648.72 L407.01 648.71 L410.02 648.70 L413.03 648.69 L416.05 648.67 L419.06 648.66 L422.07 648.65 L425.08 648.63 L428.10 648.62 L431.11 648.60 L434.12 648.59 L437.14 648.58 L440.15 648.56 L443.16 648.55 L446.17 648.53 L449.19 648.52 L452.20 648.50 L455.21 648.49 L458.22 648.47 L461.24 648.46 L464.25 648.44 L467.26 648.43 L470.28 648.41 L473.29 648.40 L476.30 648.39 L479.31 648.37 L482.33 648.36 L485.34 648.35 L488.35 648.34 L491.36 648.33 L494.38 648.32 L497.39 648.31 L500.40 648.30 L503.42 648.29 L506.43 648.28 L509.44 648.28 L512.45 648.27 L515.47 648.26 L518.48 648.26 L521.49 648.26 L524.51 648.27 L527.52 648.28 L530.53 648.29 L533.54 648.30 L536.56 648.31 L539.57 648.32 L542.58 648.33 L545.59 648.34 L548.61 648.35 L551.62 648.36 L554.63 648.37 L557.65 648.38 L560.66 648.39 L563.67 648.40 L566.68 648.41 L569.70 648.41 L572.71 648.42 L575.72 648.42 L578.74 648.43 L581.75 648.43 L584.76 648.43 L587.77 648.43 L590.79 648.42 L593.80 648.41 L596.81 648.40 L599.82 648.39 L602.84 648.37 L605.85 648.35 L608.86 648.32 L611.88 648.30 L614.89 648.27 L617.90 648.23 L620.91 648.18 L623.93 648.12 L626.94 648.04 L629.95 647.94 L632.97 647.84 L635.98 647.72 L638.99 647.60 L642.00 647.47 L645.02 647.34 L648.03 647.20 L651.04 647.07 L654.05 646.93 L657.07 646.78 L660.08 646.62 L663.09 646.46 L666.11 646.29 L669.12 646.11 L672.13 645.92 L675.14 645.73 L678.16 645.53 L681.17 645.33 L684.18 645.12 L687.20 644.90 L690.21 644.68 L693.22 644.45 L696.23 644.22 L699.25 643.98 L702.26 643.72 L705.27 643.46 L708.28 643.19 L711.30 642.92 L714.31 642.63 L717.32 642.34 L720.00 642.08" fill="none" stroke="#000" stroke-width="2.6" stroke-linecap="round" stroke-linejoin="round"/>
<path d="M51.5 0V391.3M959.3 0V391.3M50.7 390.5H960.2" stroke="#000" stroke-width="1.65" fill="none"/><path d="M51.5 518.0V693M959.3 518.0V693M50.7 692.1H960.2" stroke="#000" stroke-width="1.65" fill="none"/><path d="M44 390.30H51M44 365.93H51M44 341.55H51M44 317.18H51M44 292.80H51M44 268.43H51M44 244.05H51M44 219.68H51M44 195.30H51M44 170.93H51M44 146.55H51M44 122.18H51M44 97.80H51M44 73.43H51M44 49.05H51M959.3 390.30H966.3M959.3 365.93H966.3M959.3 341.55H966.3M959.3 317.18H966.3M959.3 292.80H966.3M959.3 268.43H966.3M959.3 244.05H966.3M959.3 219.68H966.3M959.3 195.30H966.3M959.3 170.93H966.3M959.3 146.55H966.3M44 692.00H51M959.3 692.00H966.3M44 670.25H51M959.3 670.25H966.3M44 648.50H51M959.3 648.50H966.3M44 626.75H51M959.3 626.75H966.3M44 605.00H51M959.3 605.00H966.3M44 583.25H51M959.3 583.25H966.3M44 561.50H51M959.3 561.50H966.3M44 539.75H51M959.3 539.75H966.3" stroke="#000" stroke-width="1.7" fill="none"/><path d="M51.20 390V397.5M98.30 390V397.5M145.40 390V397.5M192.50 390V397.5M239.60 390V397.5M286.70 390V397.5M333.80 390V397.5M380.90 390V397.5M428.00 390V397.5M475.10 390V397.5M522.20 390V397.5M569.30 390V397.5M616.40 390V397.5M663.50 390V397.5M710.60 390V397.5M757.70 390V397.5M804.80 390V397.5M851.90 390V397.5M899.00 390V397.5M946.10 390V397.5" stroke="#000" stroke-width="1.3" fill="none"/>
<circle cx="692.03" cy="142.02" r="6.5" fill="#ffff00" stroke="#ff0000" stroke-width="1.6"/>
<path d="M686.23 142.22H692.23" stroke="#8a9097" stroke-width="1.7" stroke-opacity="0.55" fill="none"/>
<path d="M692.03 141.92V147.92" stroke="#70767d" stroke-width="1.4" stroke-opacity="0.6" fill="none"/>
<path d="M681.46 150.20 L686.84 146.08 L692.23 141.92" fill="none" stroke="#ff2a2a" stroke-width="0.9" stroke-opacity="0.7"/>
<circle cx="692.03" cy="219.43" r="6.1" fill="#ff0000"/>
<circle cx="692.03" cy="231.13" r="6.1" fill="#ff0000"/>
<circle cx="692.03" cy="566.39" r="6.1" fill="#ff0000"/>
<circle cx="692.03" cy="574.96" r="6.1" fill="#ff0000"/>
<circle cx="692.03" cy="644.69" r="6.1" fill="#ff0000"/>
<rect x="782.5" y="0.5" width="176.5" height="27.8" fill="#fff" stroke="#555" stroke-width="1"/>
<g font-family="'Liberation Sans', sans-serif" font-size="16px">
<text transform="translate(787.80 18.80) scale(1.042 1)" text-anchor="start" fill="#000">CRNE 10-7, 3*500 V</text>
<text transform="translate(27.80 14.60) scale(1.050 1)" text-anchor="middle" fill="#000">H</text>
<text transform="translate(28.20 35.00) scale(1.050 1)" text-anchor="middle" fill="#000">[m]</text>
<text transform="translate(981.00 15.00) scale(1.050 1)" text-anchor="middle" fill="#000">eta</text>
<text transform="translate(981.00 35.00) scale(1.050 1)" text-anchor="middle" fill="#000">[%]</text>
<text transform="translate(38.60 395.00) scale(1.050 1)" text-anchor="end" fill="#000">0</text>
<text transform="translate(38.60 370.62) scale(1.050 1)" text-anchor="end" fill="#000">10</text>
<text transform="translate(38.60 346.25) scale(1.050 1)" text-anchor="end" fill="#000">20</text>
<text transform="translate(38.60 321.88) scale(1.050 1)" text-anchor="end" fill="#000">30</text>
<text transform="translate(38.60 297.50) scale(1.050 1)" text-anchor="end" fill="#000">40</text>
<text transform="translate(38.60 273.12) scale(1.050 1)" text-anchor="end" fill="#000">50</text>
<text transform="translate(38.60 248.75) scale(1.050 1)" text-anchor="end" fill="#000">60</text>
<text transform="translate(38.60 224.38) scale(1.050 1)" text-anchor="end" fill="#000">70</text>
<text transform="translate(38.60 200.00) scale(1.050 1)" text-anchor="end" fill="#000">80</text>
<text transform="translate(38.60 175.62) scale(1.050 1)" text-anchor="end" fill="#000">90</text>
<text transform="translate(38.60 151.25) scale(1.050 1)" text-anchor="end" fill="#000">100</text>
<text transform="translate(38.60 126.88) scale(1.050 1)" text-anchor="end" fill="#000">110</text>
<text transform="translate(38.60 102.50) scale(1.050 1)" text-anchor="end" fill="#000">120</text>
<text transform="translate(38.60 78.13) scale(1.050 1)" text-anchor="end" fill="#000">130</text>
<text transform="translate(970.80 395.00) scale(1.050 1)" text-anchor="start" fill="#000">0</text>
<text transform="translate(970.80 370.62) scale(1.050 1)" text-anchor="start" fill="#000">10</text>
<text transform="translate(970.80 346.25) scale(1.050 1)" text-anchor="start" fill="#000">20</text>
<text transform="translate(970.80 321.88) scale(1.050 1)" text-anchor="start" fill="#000">30</text>
<text transform="translate(970.80 297.50) scale(1.050 1)" text-anchor="start" fill="#000">40</text>
<text transform="translate(970.80 273.12) scale(1.050 1)" text-anchor="start" fill="#000">50</text>
<text transform="translate(970.80 248.75) scale(1.050 1)" text-anchor="start" fill="#000">60</text>
<text transform="translate(970.80 224.38) scale(1.050 1)" text-anchor="start" fill="#000">70</text>
<text transform="translate(970.80 200.00) scale(1.050 1)" text-anchor="start" fill="#000">80</text>
<text transform="translate(970.80 175.62) scale(1.050 1)" text-anchor="start" fill="#000">90</text>
<text transform="translate(970.80 151.25) scale(1.050 1)" text-anchor="start" fill="#000">100</text>
<text transform="translate(50.50 412.60) scale(1.050 1)" text-anchor="middle" fill="#000">0</text>
<text transform="translate(97.60 412.60) scale(1.050 1)" text-anchor="middle" fill="#000">1</text>
<text transform="translate(144.70 412.60) scale(1.050 1)" text-anchor="middle" fill="#000">2</text>
<text transform="translate(191.80 412.60) scale(1.050 1)" text-anchor="middle" fill="#000">3</text>
<text transform="translate(238.90 412.60) scale(1.050 1)" text-anchor="middle" fill="#000">4</text>
<text transform="translate(286.00 412.60) scale(1.050 1)" text-anchor="middle" fill="#000">5</text>
<text transform="translate(333.10 412.60) scale(1.050 1)" text-anchor="middle" fill="#000">6</text>
<text transform="translate(380.20 412.60) scale(1.050 1)" text-anchor="middle" fill="#000">7</text>
<text transform="translate(427.30 412.60) scale(1.050 1)" text-anchor="middle" fill="#000">8</text>
<text transform="translate(474.40 412.60) scale(1.050 1)" text-anchor="middle" fill="#000">9</text>
<text transform="translate(520.60 412.60) scale(1.050 1)" text-anchor="middle" fill="#000">10</text>
<text transform="translate(567.70 412.60) scale(1.050 1)" text-anchor="middle" fill="#000">11</text>
<text transform="translate(614.80 412.60) scale(1.050 1)" text-anchor="middle" fill="#000">12</text>
<text transform="translate(661.90 412.60) scale(1.050 1)" text-anchor="middle" fill="#000">13</text>
<text transform="translate(709.00 412.60) scale(1.050 1)" text-anchor="middle" fill="#000">14</text>
<text transform="translate(756.10 412.60) scale(1.050 1)" text-anchor="middle" fill="#000">15</text>
<text transform="translate(803.20 412.60) scale(1.050 1)" text-anchor="middle" fill="#000">16</text>
<text transform="translate(850.30 412.60) scale(1.050 1)" text-anchor="middle" fill="#000">17</text>
<text transform="translate(888.40 412.60) scale(1.050 1)" text-anchor="start" fill="#000">Q [m<tspan font-size="9.4" dx="0.4" dy="-5.5">3</tspan><tspan dx="0.4" dy="5.5">/h</tspan>]</text>
<text transform="translate(411.20 67.60) scale(1.020 1)" text-anchor="start" fill="#000">100 %</text>
<text transform="translate(402.60 80.60) scale(1.030 1)" text-anchor="start" fill="#000">98 %</text>
<text transform="translate(182.50 341.80) scale(1.050 1)" text-anchor="start" fill="#000">36 %</text>
<text transform="translate(53.60 438.80) scale(1.050 1)" text-anchor="start" fill="#000">Q = 13.61 m<tspan font-size="9.4" dx="0.4" dy="-5.5">3</tspan><tspan dx="0.4" dy="5.5">/h</tspan></text>
<text transform="translate(53.60 460.60) scale(1.064 1)" text-anchor="start" fill="#000">n = 98 % / 3916 rpm</text>
<text transform="translate(53.60 482.00) scale(1.065 1)" text-anchor="start" fill="#000">Liquid temperature during operation = 20 °C</text>
<text transform="translate(53.60 503.70) scale(1.055 1)" text-anchor="start" fill="#000">Eta pump = 70.1 %</text>
<text transform="translate(438.80 438.80) scale(1.053 1)" text-anchor="start" fill="#000">H = 101.9 m</text>
<text transform="translate(438.80 460.60) scale(1.058 1)" text-anchor="start" fill="#000">Pumped liquid = Water</text>
<text transform="translate(438.80 482.00) scale(1.060 1)" text-anchor="start" fill="#000">Density = 998.2 kg/m<tspan font-size="9.4" dx="0.4" dy="-5.5">3</tspan></text>
<text transform="translate(438.80 503.70) scale(1.056 1)" text-anchor="start" fill="#000">Eta pump+motor+freq.converter = 65.3 %</text>
<text transform="translate(25.30 532.60) scale(1.050 1)" text-anchor="middle" fill="#000">P</text>
<text transform="translate(24.80 552.20) scale(1.050 1)" text-anchor="middle" fill="#000">[kW]</text>
<text transform="translate(990.50 533.00) scale(1.050 1)" text-anchor="middle" fill="#000">NPSH</text>
<text transform="translate(990.50 552.60) scale(1.050 1)" text-anchor="middle" fill="#000">[m]</text>
<text transform="translate(38.60 696.90) scale(1.050 1)" text-anchor="end" fill="#000">0</text>
<text transform="translate(38.60 675.15) scale(1.050 1)" text-anchor="end" fill="#000">1</text>
<text transform="translate(38.60 653.40) scale(1.050 1)" text-anchor="end" fill="#000">2</text>
<text transform="translate(38.60 631.65) scale(1.050 1)" text-anchor="end" fill="#000">3</text>
<text transform="translate(38.60 609.90) scale(1.050 1)" text-anchor="end" fill="#000">4</text>
<text transform="translate(38.60 588.15) scale(1.050 1)" text-anchor="end" fill="#000">5</text>
<text transform="translate(970.80 696.90) scale(1.050 1)" text-anchor="start" fill="#000">0</text>
<text transform="translate(970.80 675.15) scale(1.050 1)" text-anchor="start" fill="#000">2</text>
<text transform="translate(970.80 653.40) scale(1.050 1)" text-anchor="start" fill="#000">4</text>
<text transform="translate(970.80 631.65) scale(1.050 1)" text-anchor="start" fill="#000">6</text>
<text transform="translate(970.80 609.90) scale(1.050 1)" text-anchor="start" fill="#000">8</text>
<text transform="translate(970.80 588.15) scale(1.050 1)" text-anchor="start" fill="#000">10</text>
<text transform="translate(668.60 558.00) scale(1.073 1)" text-anchor="start" fill="#0f4a88">P1 (motor+freq.converter)</text>
<text transform="translate(850.80 588.80) scale(1.050 1)" text-anchor="start" fill="#0f4a88">P2</text>
<text transform="translate(53.70 719.20) scale(1.067 1)" text-anchor="start" fill="#000">P1 (motor+freq.converter) = 5.775 kW</text>
<text transform="translate(53.70 740.20) scale(1.055 1)" text-anchor="start" fill="#000">P2 = 5.381 kW</text>
<text transform="translate(53.70 761.80) scale(1.052 1)" text-anchor="start" fill="#000">NPSH = 4.35 m</text>
</g>
</svg>
</body></html>
